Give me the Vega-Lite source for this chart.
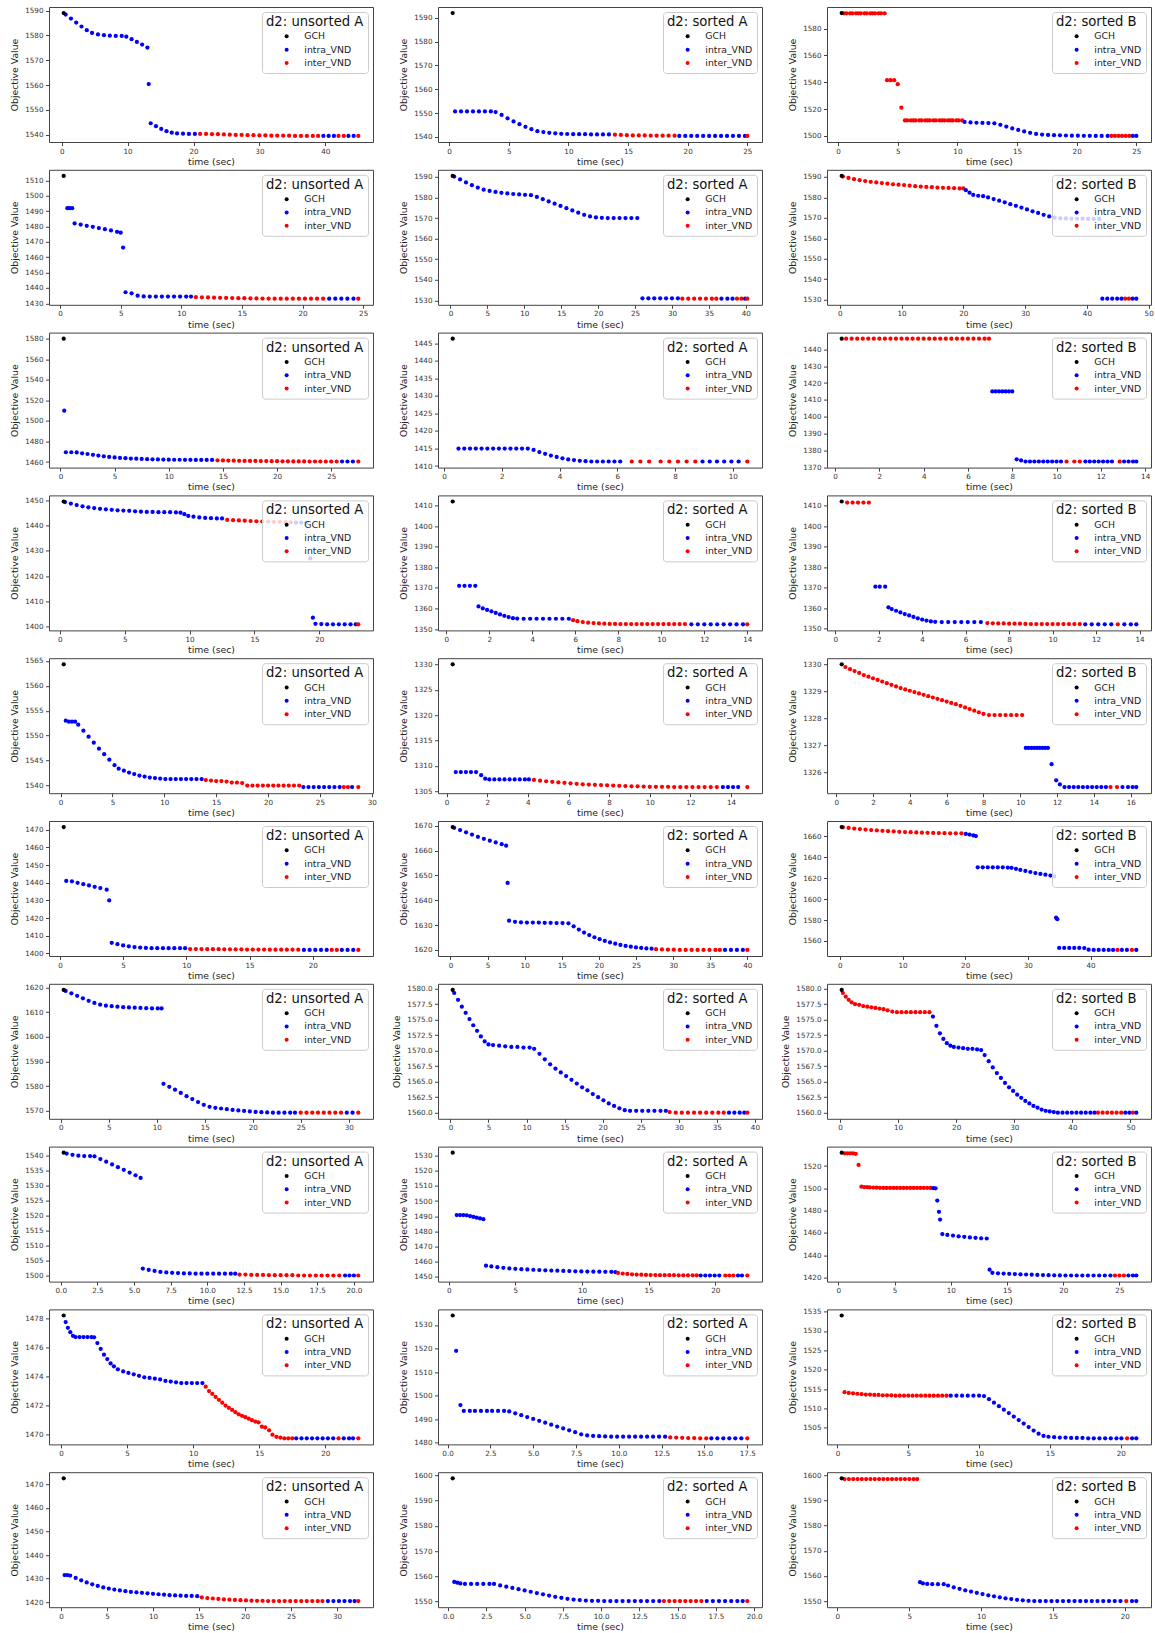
{
"$schema":"https://vega.github.io/schema/vega-lite/v6.json",
"padding":{"left":10,"top":6,"right":2,"bottom":0},
"columns":3,
"spacing":{"row":27.8,"column":65},
"bounds":"flush",
"resolve":{"scale":{"color":"independent"},"legend":{"color":"independent"}},
"config":{
"font":"DejaVu Sans",
"view":{"continuousWidth":324,"continuousHeight":135,"stroke":"#444","strokeWidth":1},
"point":{"filled":true,"size":18,"opacity":1},
"axis":{"grid":false,"domain":false,"labelFlush":false,"tickSize":3.5,"tickColor":"#444","labelFontSize":7.2,"labelColor":"#333","titleFontSize":9.3,"titleFontWeight":"normal","titleColor":"#222","labelPadding":1.5,"titlePadding":3},
"axisY":{"labelPadding":2.5,"titlePadding":5},
"legend":{"orient":"top-right","offset":5,"padding":4,"fillColor":"rgba(255,255,255,0.8)","strokeColor":"#cccccc","cornerRadius":3,"titleFontSize":13.2,"titleFontWeight":"normal","titleColor":"#111","titlePadding":2.5,"labelFontSize":9.3,"labelColor":"#222","labelOffset":13,"symbolType":"circle","symbolSize":16,"symbolOffset":16,"rowPadding":3.3,"symbolStrokeWidth":0}
},
"datasets":{
"d0":[{"t":0.6,"v":1588.4,"s":"a"},{"t":1.4,"v":1586.8,"s":"a"},{"t":2.2,"v":1585.2,"s":"a"},{"t":3,"v":1583.6,"s":"a"},{"t":3.8,"v":1582.1,"s":"a"},{"t":4.6,"v":1581,"s":"a"},{"t":5.5,"v":1580.4,"s":"a"},{"t":6.4,"v":1580.1,"s":"a"},{"t":7.3,"v":1579.9,"s":"a"},{"t":8.2,"v":1579.8,"s":"a"},{"t":9.1,"v":1579.8,"s":"a"},{"t":9.8,"v":1579.5,"s":"a"},{"t":10.6,"v":1578.5,"s":"a"},{"t":11.4,"v":1577.4,"s":"a"},{"t":12.2,"v":1576.3,"s":"a"},{"t":13,"v":1575.1,"s":"a"},{"t":13.2,"v":1560.4,"s":"a"},{"t":13.5,"v":1544.6,"s":"a"},{"t":14.3,"v":1543.4,"s":"a"},{"t":15.1,"v":1542.3,"s":"a"},{"t":15.9,"v":1541.4,"s":"a"},{"t":16.7,"v":1540.8,"s":"a"},{"t":17.5,"v":1540.5,"s":"a"},{"t":18.4,"v":1540.4,"s":"a"},{"t":19.3,"v":1540.3,"s":"a"},{"t":20.2,"v":1540.3,"s":"a"},{"t":21,"v":1540.3,"s":"e"},{"t":21.9,"v":1540.3,"s":"e"},{"t":22.8,"v":1540.2,"s":"e"},{"t":23.7,"v":1540.2,"s":"e"},{"t":24.6,"v":1540.1,"s":"e"},{"t":25.5,"v":1540,"s":"e"},{"t":26.4,"v":1539.9,"s":"e"},{"t":27.3,"v":1539.9,"s":"e"},{"t":28.2,"v":1539.8,"s":"e"},{"t":29.1,"v":1539.8,"s":"e"},{"t":30,"v":1539.7,"s":"e"},{"t":30.9,"v":1539.7,"s":"e"},{"t":31.8,"v":1539.6,"s":"e"},{"t":32.7,"v":1539.6,"s":"e"},{"t":33.6,"v":1539.6,"s":"e"},{"t":34.5,"v":1539.6,"s":"e"},{"t":35.4,"v":1539.5,"s":"e"},{"t":36.3,"v":1539.5,"s":"e"},{"t":37.2,"v":1539.5,"s":"e"},{"t":38.1,"v":1539.5,"s":"e"},{"t":38.9,"v":1539.5,"s":"e"},{"t":39.7,"v":1539.5,"s":"a"},{"t":40.5,"v":1539.5,"s":"a"},{"t":41.3,"v":1539.5,"s":"a"},{"t":42,"v":1539.5,"s":"e"},{"t":42.8,"v":1539.5,"s":"e"},{"t":43.5,"v":1539.5,"s":"a"},{"t":44.3,"v":1539.5,"s":"a"},{"t":45,"v":1539.5,"s":"e"},{"t":0.3,"v":1589,"s":"G"}],
"d1":[{"t":0.5,"v":1550.7,"s":"a"},{"t":1,"v":1550.7,"s":"a"},{"t":1.5,"v":1550.7,"s":"a"},{"t":2,"v":1550.7,"s":"a"},{"t":2.5,"v":1550.7,"s":"a"},{"t":3,"v":1550.7,"s":"a"},{"t":3.5,"v":1550.7,"s":"a"},{"t":3.9,"v":1550.4,"s":"a"},{"t":4.4,"v":1549.2,"s":"a"},{"t":4.9,"v":1547.8,"s":"a"},{"t":5.4,"v":1546.5,"s":"a"},{"t":5.9,"v":1545.3,"s":"a"},{"t":6.4,"v":1544.2,"s":"a"},{"t":6.9,"v":1543.2,"s":"a"},{"t":7.4,"v":1542.4,"s":"a"},{"t":7.9,"v":1542,"s":"a"},{"t":8.4,"v":1541.7,"s":"a"},{"t":8.9,"v":1541.5,"s":"a"},{"t":9.4,"v":1541.3,"s":"a"},{"t":9.9,"v":1541.2,"s":"a"},{"t":10.4,"v":1541.1,"s":"a"},{"t":10.9,"v":1541.1,"s":"a"},{"t":11.4,"v":1541.1,"s":"a"},{"t":11.9,"v":1541,"s":"a"},{"t":12.4,"v":1541,"s":"a"},{"t":12.9,"v":1541,"s":"a"},{"t":13.4,"v":1541,"s":"a"},{"t":13.9,"v":1540.9,"s":"e"},{"t":14.4,"v":1540.8,"s":"e"},{"t":14.9,"v":1540.7,"s":"e"},{"t":15.4,"v":1540.6,"s":"e"},{"t":15.9,"v":1540.6,"s":"e"},{"t":16.4,"v":1540.6,"s":"e"},{"t":16.9,"v":1540.5,"s":"e"},{"t":17.4,"v":1540.5,"s":"e"},{"t":17.9,"v":1540.5,"s":"e"},{"t":18.4,"v":1540.5,"s":"e"},{"t":18.9,"v":1540.5,"s":"e"},{"t":19.3,"v":1540.4,"s":"a"},{"t":19.8,"v":1540.4,"s":"a"},{"t":20.3,"v":1540.4,"s":"a"},{"t":20.8,"v":1540.4,"s":"a"},{"t":21.3,"v":1540.4,"s":"a"},{"t":21.8,"v":1540.4,"s":"a"},{"t":22.3,"v":1540.4,"s":"a"},{"t":22.8,"v":1540.4,"s":"a"},{"t":23.3,"v":1540.4,"s":"a"},{"t":23.8,"v":1540.4,"s":"a"},{"t":24.3,"v":1540.4,"s":"a"},{"t":24.8,"v":1540.4,"s":"a"},{"t":25,"v":1540.4,"s":"e"},{"t":0.3,"v":1592,"s":"G"}],
"d2":[{"t":0.5,"v":1591.3,"s":"e"},{"t":0.7,"v":1591.3,"s":"e"},{"t":1,"v":1591.3,"s":"e"},{"t":1.2,"v":1591.3,"s":"e"},{"t":1.5,"v":1591.3,"s":"e"},{"t":1.7,"v":1591.3,"s":"e"},{"t":1.9,"v":1591.3,"s":"e"},{"t":2.2,"v":1591.3,"s":"e"},{"t":2.4,"v":1591.3,"s":"e"},{"t":2.7,"v":1591.3,"s":"e"},{"t":2.9,"v":1591.3,"s":"e"},{"t":3.1,"v":1591.3,"s":"e"},{"t":3.4,"v":1591.3,"s":"e"},{"t":3.6,"v":1591.3,"s":"e"},{"t":3.9,"v":1591.3,"s":"e"},{"t":4.1,"v":1541.5,"s":"e"},{"t":4.4,"v":1541.5,"s":"e"},{"t":4.7,"v":1541.5,"s":"e"},{"t":5,"v":1538.5,"s":"e"},{"t":5.3,"v":1521,"s":"e"},{"t":5.6,"v":1511.5,"s":"e"},{"t":5.8,"v":1511.5,"s":"e"},{"t":6.1,"v":1511.5,"s":"e"},{"t":6.3,"v":1511.5,"s":"e"},{"t":6.5,"v":1511.5,"s":"e"},{"t":6.8,"v":1511.5,"s":"e"},{"t":7,"v":1511.5,"s":"e"},{"t":7.3,"v":1511.5,"s":"e"},{"t":7.5,"v":1511.5,"s":"e"},{"t":7.7,"v":1511.5,"s":"e"},{"t":8,"v":1511.5,"s":"e"},{"t":8.2,"v":1511.5,"s":"e"},{"t":8.5,"v":1511.5,"s":"e"},{"t":8.7,"v":1511.5,"s":"e"},{"t":8.9,"v":1511.5,"s":"e"},{"t":9.2,"v":1511.5,"s":"e"},{"t":9.4,"v":1511.5,"s":"e"},{"t":9.6,"v":1511.5,"s":"e"},{"t":9.9,"v":1511.5,"s":"e"},{"t":10.1,"v":1511.5,"s":"e"},{"t":10.4,"v":1511.5,"s":"e"},{"t":10.6,"v":1510.4,"s":"a"},{"t":11.1,"v":1510,"s":"a"},{"t":11.6,"v":1509.8,"s":"a"},{"t":12.1,"v":1509.7,"s":"a"},{"t":12.6,"v":1509.6,"s":"a"},{"t":13.1,"v":1509.4,"s":"a"},{"t":13.6,"v":1508.3,"s":"a"},{"t":14.1,"v":1507,"s":"a"},{"t":14.6,"v":1505.6,"s":"a"},{"t":15.1,"v":1504.4,"s":"a"},{"t":15.6,"v":1503.3,"s":"a"},{"t":16.1,"v":1502.3,"s":"a"},{"t":16.6,"v":1501.5,"s":"a"},{"t":17.1,"v":1501,"s":"a"},{"t":17.6,"v":1500.7,"s":"a"},{"t":18.1,"v":1500.5,"s":"a"},{"t":18.6,"v":1500.4,"s":"a"},{"t":19.1,"v":1500.3,"s":"a"},{"t":19.6,"v":1500.2,"s":"a"},{"t":20.1,"v":1500.2,"s":"a"},{"t":20.6,"v":1500.1,"s":"a"},{"t":21.1,"v":1500.1,"s":"a"},{"t":21.6,"v":1500,"s":"a"},{"t":22.1,"v":1500,"s":"a"},{"t":22.6,"v":1500,"s":"a"},{"t":22.9,"v":1500,"s":"e"},{"t":23.2,"v":1500,"s":"e"},{"t":23.5,"v":1500,"s":"e"},{"t":23.8,"v":1500,"s":"e"},{"t":24.1,"v":1500,"s":"e"},{"t":24.4,"v":1500,"s":"e"},{"t":24.7,"v":1500,"s":"a"},{"t":25,"v":1500,"s":"a"},{"t":0.3,"v":1591.5,"s":"G"}],
"d3":[{"t":0.6,"v":1492,"s":"a"},{"t":0.8,"v":1492,"s":"a"},{"t":1,"v":1492,"s":"a"},{"t":1.2,"v":1482,"s":"a"},{"t":1.7,"v":1481.3,"s":"a"},{"t":2.2,"v":1480.5,"s":"a"},{"t":2.7,"v":1479.8,"s":"a"},{"t":3.2,"v":1479,"s":"a"},{"t":3.7,"v":1478.3,"s":"a"},{"t":4.2,"v":1477.5,"s":"a"},{"t":4.7,"v":1476.6,"s":"a"},{"t":5,"v":1476,"s":"a"},{"t":5.2,"v":1466.3,"s":"a"},{"t":5.4,"v":1437.2,"s":"a"},{"t":5.9,"v":1436.5,"s":"a"},{"t":6.4,"v":1435,"s":"a"},{"t":6.9,"v":1434.5,"s":"a"},{"t":7.4,"v":1434.4,"s":"a"},{"t":7.9,"v":1434.4,"s":"a"},{"t":8.4,"v":1434.4,"s":"a"},{"t":8.9,"v":1434.4,"s":"a"},{"t":9.4,"v":1434.4,"s":"a"},{"t":9.9,"v":1434.4,"s":"a"},{"t":10.4,"v":1434.4,"s":"a"},{"t":10.8,"v":1434.4,"s":"a"},{"t":11.2,"v":1434,"s":"e"},{"t":11.7,"v":1433.9,"s":"e"},{"t":12.2,"v":1433.8,"s":"e"},{"t":12.7,"v":1433.7,"s":"e"},{"t":13.2,"v":1433.6,"s":"e"},{"t":13.7,"v":1433.5,"s":"e"},{"t":14.2,"v":1433.4,"s":"e"},{"t":14.7,"v":1433.3,"s":"e"},{"t":15.2,"v":1433.3,"s":"e"},{"t":15.7,"v":1433.2,"s":"e"},{"t":16.2,"v":1433.2,"s":"e"},{"t":16.7,"v":1433.1,"s":"e"},{"t":17.2,"v":1433.1,"s":"e"},{"t":17.7,"v":1433,"s":"e"},{"t":18.2,"v":1433,"s":"e"},{"t":18.7,"v":1433,"s":"e"},{"t":19.2,"v":1433,"s":"e"},{"t":19.7,"v":1433,"s":"e"},{"t":20.2,"v":1433,"s":"e"},{"t":20.7,"v":1433,"s":"e"},{"t":21.2,"v":1433,"s":"e"},{"t":21.7,"v":1433,"s":"e"},{"t":22.2,"v":1433,"s":"a"},{"t":22.7,"v":1433,"s":"a"},{"t":23.2,"v":1433,"s":"a"},{"t":23.7,"v":1433,"s":"a"},{"t":24.2,"v":1433,"s":"a"},{"t":24.6,"v":1433,"s":"e"},{"t":0.3,"v":1513,"s":"G"}],
"d4":[{"t":0.5,"v":1590.2,"s":"a"},{"t":1.3,"v":1588.8,"s":"a"},{"t":2.1,"v":1587.3,"s":"a"},{"t":2.9,"v":1586,"s":"a"},{"t":3.7,"v":1584.8,"s":"a"},{"t":4.5,"v":1583.8,"s":"a"},{"t":5.3,"v":1583.2,"s":"a"},{"t":6.1,"v":1582.7,"s":"a"},{"t":6.9,"v":1582.3,"s":"a"},{"t":7.7,"v":1582,"s":"a"},{"t":8.5,"v":1581.7,"s":"a"},{"t":9.3,"v":1581.5,"s":"a"},{"t":10.1,"v":1581.3,"s":"a"},{"t":10.9,"v":1581.1,"s":"a"},{"t":11.7,"v":1580.3,"s":"a"},{"t":12.5,"v":1579.2,"s":"a"},{"t":13.3,"v":1578.1,"s":"a"},{"t":14.1,"v":1577,"s":"a"},{"t":14.9,"v":1575.9,"s":"a"},{"t":15.7,"v":1574.8,"s":"a"},{"t":16.5,"v":1573.7,"s":"a"},{"t":17.3,"v":1572.6,"s":"a"},{"t":18.1,"v":1571.6,"s":"a"},{"t":18.9,"v":1570.8,"s":"a"},{"t":19.7,"v":1570.3,"s":"a"},{"t":20.5,"v":1570.1,"s":"a"},{"t":21.3,"v":1570,"s":"a"},{"t":22.1,"v":1570,"s":"a"},{"t":22.9,"v":1570,"s":"a"},{"t":23.7,"v":1570,"s":"a"},{"t":24.5,"v":1570,"s":"a"},{"t":25.3,"v":1570,"s":"a"},{"t":26,"v":1531,"s":"a"},{"t":26.8,"v":1531,"s":"a"},{"t":27.6,"v":1531,"s":"a"},{"t":28.4,"v":1531,"s":"a"},{"t":29.2,"v":1531,"s":"a"},{"t":30,"v":1531,"s":"a"},{"t":30.8,"v":1531,"s":"a"},{"t":31.4,"v":1530.8,"s":"e"},{"t":32.2,"v":1530.8,"s":"e"},{"t":33,"v":1530.8,"s":"e"},{"t":33.8,"v":1530.8,"s":"e"},{"t":34.6,"v":1530.8,"s":"e"},{"t":35.4,"v":1530.8,"s":"e"},{"t":36,"v":1530.8,"s":"e"},{"t":36.7,"v":1530.8,"s":"a"},{"t":37.5,"v":1530.8,"s":"a"},{"t":38.2,"v":1530.8,"s":"a"},{"t":38.8,"v":1530.8,"s":"e"},{"t":39.4,"v":1530.8,"s":"e"},{"t":39.9,"v":1530.8,"s":"a"},{"t":40.2,"v":1530.8,"s":"e"},{"t":0.3,"v":1590.5,"s":"G"}],
"d5":[{"t":0.5,"v":1590.2,"s":"e"},{"t":1.4,"v":1589.5,"s":"e"},{"t":2.3,"v":1588.9,"s":"e"},{"t":3.2,"v":1588.4,"s":"e"},{"t":4.1,"v":1588,"s":"e"},{"t":5,"v":1587.6,"s":"e"},{"t":5.9,"v":1587.3,"s":"e"},{"t":6.8,"v":1587,"s":"e"},{"t":7.7,"v":1586.7,"s":"e"},{"t":8.6,"v":1586.4,"s":"e"},{"t":9.5,"v":1586.2,"s":"e"},{"t":10.4,"v":1586,"s":"e"},{"t":11.3,"v":1585.7,"s":"e"},{"t":12.2,"v":1585.5,"s":"e"},{"t":13.1,"v":1585.3,"s":"e"},{"t":14,"v":1585.1,"s":"e"},{"t":14.9,"v":1585,"s":"e"},{"t":15.8,"v":1584.8,"s":"e"},{"t":16.7,"v":1584.7,"s":"e"},{"t":17.6,"v":1584.6,"s":"e"},{"t":18.5,"v":1584.5,"s":"e"},{"t":19.4,"v":1584.4,"s":"e"},{"t":20,"v":1584.4,"s":"e"},{"t":20.4,"v":1583.5,"s":"a"},{"t":21,"v":1582.3,"s":"a"},{"t":21.6,"v":1581.2,"s":"a"},{"t":22.4,"v":1580.8,"s":"a"},{"t":23.2,"v":1580.6,"s":"a"},{"t":24,"v":1580,"s":"a"},{"t":24.9,"v":1579.2,"s":"a"},{"t":25.8,"v":1578.4,"s":"a"},{"t":26.7,"v":1577.6,"s":"a"},{"t":27.6,"v":1576.7,"s":"a"},{"t":28.5,"v":1575.9,"s":"a"},{"t":29.4,"v":1575,"s":"a"},{"t":30.3,"v":1574.1,"s":"a"},{"t":31.2,"v":1573.2,"s":"a"},{"t":32.1,"v":1572.4,"s":"a"},{"t":33,"v":1571.5,"s":"a"},{"t":33.9,"v":1570.7,"s":"a"},{"t":34.8,"v":1570.1,"s":"a"},{"t":35.7,"v":1569.8,"s":"a"},{"t":36.6,"v":1569.7,"s":"a"},{"t":37.5,"v":1569.6,"s":"a"},{"t":38.4,"v":1569.6,"s":"a"},{"t":39.3,"v":1569.6,"s":"a"},{"t":40.2,"v":1569.5,"s":"a"},{"t":41.1,"v":1569.5,"s":"a"},{"t":42,"v":1569.5,"s":"a"},{"t":42.5,"v":1530.5,"s":"a"},{"t":43.3,"v":1530.5,"s":"a"},{"t":44.1,"v":1530.5,"s":"a"},{"t":44.9,"v":1530.5,"s":"a"},{"t":45.6,"v":1530.5,"s":"a"},{"t":46.2,"v":1530.5,"s":"e"},{"t":46.8,"v":1530.5,"s":"e"},{"t":47.4,"v":1530.5,"s":"a"},{"t":48,"v":1530.5,"s":"a"},{"t":0.3,"v":1590.5,"s":"G"}],
"d6":[{"t":0.35,"v":1510,"s":"a"},{"t":0.5,"v":1469.5,"s":"a"},{"t":1,"v":1469.5,"s":"a"},{"t":1.5,"v":1469.3,"s":"a"},{"t":2,"v":1468.5,"s":"a"},{"t":2.5,"v":1467.8,"s":"a"},{"t":3,"v":1467,"s":"a"},{"t":3.5,"v":1466.3,"s":"a"},{"t":4,"v":1465.6,"s":"a"},{"t":4.5,"v":1465,"s":"a"},{"t":5,"v":1464.5,"s":"a"},{"t":5.5,"v":1464,"s":"a"},{"t":6,"v":1463.7,"s":"a"},{"t":6.5,"v":1463.4,"s":"a"},{"t":7,"v":1463.2,"s":"a"},{"t":7.5,"v":1463,"s":"a"},{"t":8,"v":1462.8,"s":"a"},{"t":8.5,"v":1462.6,"s":"a"},{"t":9,"v":1462.5,"s":"a"},{"t":9.5,"v":1462.4,"s":"a"},{"t":10,"v":1462.3,"s":"a"},{"t":10.5,"v":1462.2,"s":"a"},{"t":11,"v":1462.2,"s":"a"},{"t":11.5,"v":1462.1,"s":"a"},{"t":12,"v":1462.1,"s":"a"},{"t":12.5,"v":1462,"s":"a"},{"t":13,"v":1462,"s":"a"},{"t":13.5,"v":1462,"s":"a"},{"t":14,"v":1462,"s":"a"},{"t":14.5,"v":1461.6,"s":"e"},{"t":15,"v":1461.5,"s":"e"},{"t":15.5,"v":1461.4,"s":"e"},{"t":16,"v":1461.3,"s":"e"},{"t":16.5,"v":1461.2,"s":"e"},{"t":17,"v":1461.1,"s":"e"},{"t":17.5,"v":1461,"s":"e"},{"t":18,"v":1461,"s":"e"},{"t":18.5,"v":1460.9,"s":"e"},{"t":19,"v":1460.9,"s":"e"},{"t":19.5,"v":1460.8,"s":"e"},{"t":20,"v":1460.8,"s":"e"},{"t":20.5,"v":1460.7,"s":"e"},{"t":21,"v":1460.7,"s":"e"},{"t":21.5,"v":1460.6,"s":"e"},{"t":22,"v":1460.6,"s":"e"},{"t":22.5,"v":1460.6,"s":"e"},{"t":23,"v":1460.5,"s":"e"},{"t":23.5,"v":1460.5,"s":"e"},{"t":24,"v":1460.5,"s":"e"},{"t":24.5,"v":1460.5,"s":"e"},{"t":25,"v":1460.5,"s":"e"},{"t":25.5,"v":1460.5,"s":"e"},{"t":26,"v":1460.5,"s":"a"},{"t":26.5,"v":1460.5,"s":"a"},{"t":27,"v":1460.5,"s":"a"},{"t":27.5,"v":1460.5,"s":"e"},{"t":0.3,"v":1580,"s":"G"}],
"d7":[{"t":0.5,"v":1415,"s":"a"},{"t":0.7,"v":1415,"s":"a"},{"t":0.9,"v":1415,"s":"a"},{"t":1.1,"v":1415,"s":"a"},{"t":1.3,"v":1415,"s":"a"},{"t":1.5,"v":1415,"s":"a"},{"t":1.7,"v":1415,"s":"a"},{"t":1.9,"v":1415,"s":"a"},{"t":2.1,"v":1415,"s":"a"},{"t":2.3,"v":1415,"s":"a"},{"t":2.5,"v":1415,"s":"a"},{"t":2.7,"v":1415,"s":"a"},{"t":2.9,"v":1415,"s":"a"},{"t":3.1,"v":1414.6,"s":"a"},{"t":3.3,"v":1414,"s":"a"},{"t":3.5,"v":1413.5,"s":"a"},{"t":3.7,"v":1413,"s":"a"},{"t":3.9,"v":1412.6,"s":"a"},{"t":4.1,"v":1412.2,"s":"a"},{"t":4.3,"v":1411.9,"s":"a"},{"t":4.5,"v":1411.7,"s":"a"},{"t":4.7,"v":1411.5,"s":"a"},{"t":4.9,"v":1411.4,"s":"a"},{"t":5.1,"v":1411.3,"s":"a"},{"t":5.3,"v":1411.3,"s":"a"},{"t":5.5,"v":1411.3,"s":"a"},{"t":5.7,"v":1411.3,"s":"a"},{"t":5.9,"v":1411.3,"s":"a"},{"t":6.1,"v":1411.3,"s":"a"},{"t":6.5,"v":1411.3,"s":"e"},{"t":6.8,"v":1411.3,"s":"e"},{"t":7.1,"v":1411.3,"s":"e"},{"t":7.5,"v":1411.3,"s":"e"},{"t":7.8,"v":1411.3,"s":"e"},{"t":8.1,"v":1411.3,"s":"e"},{"t":8.4,"v":1411.3,"s":"e"},{"t":8.7,"v":1411.3,"s":"e"},{"t":8.95,"v":1411.3,"s":"a"},{"t":9.2,"v":1411.3,"s":"a"},{"t":9.45,"v":1411.3,"s":"a"},{"t":9.7,"v":1411.3,"s":"a"},{"t":9.95,"v":1411.3,"s":"a"},{"t":10.2,"v":1411.3,"s":"a"},{"t":10.5,"v":1411.3,"s":"e"},{"t":0.3,"v":1446.3,"s":"G"}],
"d8":[{"t":0.5,"v":1446.3,"s":"e"},{"t":0.75,"v":1446.3,"s":"e"},{"t":1,"v":1446.3,"s":"e"},{"t":1.25,"v":1446.3,"s":"e"},{"t":1.5,"v":1446.3,"s":"e"},{"t":1.75,"v":1446.3,"s":"e"},{"t":2,"v":1446.3,"s":"e"},{"t":2.25,"v":1446.3,"s":"e"},{"t":2.5,"v":1446.3,"s":"e"},{"t":2.75,"v":1446.3,"s":"e"},{"t":3,"v":1446.3,"s":"e"},{"t":3.25,"v":1446.3,"s":"e"},{"t":3.5,"v":1446.3,"s":"e"},{"t":3.75,"v":1446.3,"s":"e"},{"t":4,"v":1446.3,"s":"e"},{"t":4.25,"v":1446.3,"s":"e"},{"t":4.5,"v":1446.3,"s":"e"},{"t":4.75,"v":1446.3,"s":"e"},{"t":5,"v":1446.3,"s":"e"},{"t":5.25,"v":1446.3,"s":"e"},{"t":5.5,"v":1446.3,"s":"e"},{"t":5.75,"v":1446.3,"s":"e"},{"t":6,"v":1446.3,"s":"e"},{"t":6.25,"v":1446.3,"s":"e"},{"t":6.5,"v":1446.3,"s":"e"},{"t":6.75,"v":1446.3,"s":"e"},{"t":6.95,"v":1446.3,"s":"e"},{"t":7.1,"v":1415,"s":"a"},{"t":7.25,"v":1415,"s":"a"},{"t":7.4,"v":1415,"s":"a"},{"t":7.55,"v":1415,"s":"a"},{"t":7.7,"v":1415,"s":"a"},{"t":7.85,"v":1415,"s":"a"},{"t":8,"v":1415,"s":"a"},{"t":8.2,"v":1374.7,"s":"a"},{"t":8.4,"v":1374,"s":"a"},{"t":8.6,"v":1373.4,"s":"a"},{"t":8.8,"v":1373.4,"s":"a"},{"t":9,"v":1373.4,"s":"a"},{"t":9.2,"v":1373.4,"s":"a"},{"t":9.4,"v":1373.4,"s":"a"},{"t":9.6,"v":1373.4,"s":"a"},{"t":9.8,"v":1373.4,"s":"a"},{"t":10,"v":1373.4,"s":"a"},{"t":10.2,"v":1373.4,"s":"a"},{"t":10.45,"v":1373.4,"s":"e"},{"t":10.8,"v":1373.4,"s":"e"},{"t":11.05,"v":1373.4,"s":"e"},{"t":11.3,"v":1373.4,"s":"a"},{"t":11.5,"v":1373.4,"s":"a"},{"t":11.7,"v":1373.4,"s":"a"},{"t":11.9,"v":1373.4,"s":"a"},{"t":12.1,"v":1373.4,"s":"a"},{"t":12.3,"v":1373.4,"s":"a"},{"t":12.5,"v":1373.4,"s":"a"},{"t":12.85,"v":1373.4,"s":"e"},{"t":13.05,"v":1373.4,"s":"a"},{"t":13.25,"v":1373.4,"s":"a"},{"t":13.45,"v":1373.4,"s":"a"},{"t":13.6,"v":1373.4,"s":"a"},{"t":0.3,"v":1446.3,"s":"G"}],
"d9":[{"t":0.4,"v":1449.3,"s":"a"},{"t":0.85,"v":1448.7,"s":"a"},{"t":1.3,"v":1448.1,"s":"a"},{"t":1.75,"v":1447.6,"s":"a"},{"t":2.2,"v":1447.2,"s":"a"},{"t":2.65,"v":1446.9,"s":"a"},{"t":3.1,"v":1446.6,"s":"a"},{"t":3.55,"v":1446.4,"s":"a"},{"t":4,"v":1446.2,"s":"a"},{"t":4.45,"v":1446,"s":"a"},{"t":4.9,"v":1445.9,"s":"a"},{"t":5.35,"v":1445.8,"s":"a"},{"t":5.8,"v":1445.6,"s":"a"},{"t":6.25,"v":1445.5,"s":"a"},{"t":6.7,"v":1445.4,"s":"a"},{"t":7.15,"v":1445.4,"s":"a"},{"t":7.6,"v":1445.3,"s":"a"},{"t":8.05,"v":1445.3,"s":"a"},{"t":8.5,"v":1445.3,"s":"a"},{"t":8.95,"v":1445.2,"s":"a"},{"t":9.3,"v":1445.1,"s":"a"},{"t":9.6,"v":1444.5,"s":"a"},{"t":9.9,"v":1443.8,"s":"a"},{"t":10.3,"v":1443.5,"s":"a"},{"t":10.75,"v":1443.2,"s":"a"},{"t":11.2,"v":1443,"s":"a"},{"t":11.65,"v":1442.9,"s":"a"},{"t":12.1,"v":1442.8,"s":"a"},{"t":12.5,"v":1442.8,"s":"a"},{"t":12.9,"v":1442.2,"s":"e"},{"t":13.35,"v":1442.1,"s":"e"},{"t":13.8,"v":1442,"s":"e"},{"t":14.25,"v":1441.9,"s":"e"},{"t":14.7,"v":1441.8,"s":"e"},{"t":15.15,"v":1441.7,"s":"e"},{"t":15.6,"v":1441.6,"s":"e"},{"t":16.05,"v":1441.6,"s":"e"},{"t":16.5,"v":1441.5,"s":"e"},{"t":16.95,"v":1441.5,"s":"e"},{"t":17.4,"v":1441.4,"s":"e"},{"t":17.8,"v":1441.3,"s":"e"},{"t":18.2,"v":1441.2,"s":"a"},{"t":18.6,"v":1441.2,"s":"a"},{"t":19,"v":1441.2,"s":"a"},{"t":19.3,"v":1427,"s":"a"},{"t":19.5,"v":1403.6,"s":"a"},{"t":19.7,"v":1401.2,"s":"a"},{"t":20.15,"v":1401.1,"s":"a"},{"t":20.6,"v":1401,"s":"a"},{"t":21.05,"v":1401,"s":"a"},{"t":21.5,"v":1401,"s":"a"},{"t":21.95,"v":1401,"s":"a"},{"t":22.4,"v":1401,"s":"a"},{"t":22.8,"v":1401,"s":"a"},{"t":23,"v":1401,"s":"e"},{"t":0.3,"v":1449.5,"s":"G"}],
"d10":[{"t":0.6,"v":1371,"s":"a"},{"t":0.85,"v":1371,"s":"a"},{"t":1.1,"v":1371,"s":"a"},{"t":1.35,"v":1371,"s":"a"},{"t":1.5,"v":1361,"s":"a"},{"t":1.7,"v":1360,"s":"a"},{"t":1.9,"v":1359.3,"s":"a"},{"t":2.1,"v":1358.6,"s":"a"},{"t":2.3,"v":1357.8,"s":"a"},{"t":2.5,"v":1357.1,"s":"a"},{"t":2.7,"v":1356.4,"s":"a"},{"t":2.9,"v":1355.8,"s":"a"},{"t":3.1,"v":1355.3,"s":"a"},{"t":3.3,"v":1355.1,"s":"a"},{"t":3.6,"v":1355,"s":"a"},{"t":3.9,"v":1355,"s":"a"},{"t":4.2,"v":1355,"s":"a"},{"t":4.5,"v":1355,"s":"a"},{"t":4.8,"v":1355,"s":"a"},{"t":5.1,"v":1355,"s":"a"},{"t":5.4,"v":1355,"s":"a"},{"t":5.7,"v":1355,"s":"a"},{"t":5.9,"v":1354.3,"s":"e"},{"t":6.1,"v":1353.8,"s":"e"},{"t":6.35,"v":1353.4,"s":"e"},{"t":6.6,"v":1353.1,"s":"e"},{"t":6.85,"v":1352.9,"s":"e"},{"t":7.1,"v":1352.7,"s":"e"},{"t":7.35,"v":1352.6,"s":"e"},{"t":7.6,"v":1352.5,"s":"e"},{"t":7.85,"v":1352.5,"s":"e"},{"t":8.1,"v":1352.4,"s":"e"},{"t":8.35,"v":1352.4,"s":"e"},{"t":8.6,"v":1352.4,"s":"e"},{"t":8.85,"v":1352.4,"s":"e"},{"t":9.1,"v":1352.4,"s":"e"},{"t":9.35,"v":1352.4,"s":"e"},{"t":9.6,"v":1352.4,"s":"e"},{"t":9.85,"v":1352.4,"s":"e"},{"t":10.1,"v":1352.4,"s":"e"},{"t":10.35,"v":1352.4,"s":"e"},{"t":10.6,"v":1352.4,"s":"e"},{"t":10.85,"v":1352.4,"s":"e"},{"t":11.1,"v":1352.4,"s":"e"},{"t":11.4,"v":1352.3,"s":"a"},{"t":11.7,"v":1352.3,"s":"a"},{"t":12,"v":1352.3,"s":"a"},{"t":12.3,"v":1352.3,"s":"a"},{"t":12.6,"v":1352.3,"s":"a"},{"t":12.9,"v":1352.3,"s":"a"},{"t":13.2,"v":1352.3,"s":"a"},{"t":13.5,"v":1352.3,"s":"a"},{"t":13.8,"v":1352.3,"s":"a"},{"t":14,"v":1352.3,"s":"e"},{"t":0.3,"v":1412,"s":"G"}],
"d11":[{"t":0.55,"v":1411.5,"s":"e"},{"t":0.8,"v":1411.5,"s":"e"},{"t":1.05,"v":1411.5,"s":"e"},{"t":1.3,"v":1411.5,"s":"e"},{"t":1.55,"v":1411.5,"s":"e"},{"t":1.85,"v":1370.5,"s":"a"},{"t":2.05,"v":1370.5,"s":"a"},{"t":2.3,"v":1370.5,"s":"a"},{"t":2.45,"v":1360.5,"s":"a"},{"t":2.6,"v":1359.6,"s":"a"},{"t":2.8,"v":1358.8,"s":"a"},{"t":3,"v":1358,"s":"a"},{"t":3.2,"v":1357.2,"s":"a"},{"t":3.4,"v":1356.5,"s":"a"},{"t":3.6,"v":1355.8,"s":"a"},{"t":3.8,"v":1355.1,"s":"a"},{"t":4,"v":1354.5,"s":"a"},{"t":4.2,"v":1354,"s":"a"},{"t":4.4,"v":1353.6,"s":"a"},{"t":4.6,"v":1353.4,"s":"a"},{"t":4.9,"v":1353.3,"s":"a"},{"t":5.2,"v":1353.3,"s":"a"},{"t":5.5,"v":1353.3,"s":"a"},{"t":5.8,"v":1353.3,"s":"a"},{"t":6.1,"v":1353.3,"s":"a"},{"t":6.4,"v":1353.3,"s":"a"},{"t":6.7,"v":1353.3,"s":"a"},{"t":7,"v":1352.8,"s":"e"},{"t":7.25,"v":1352.7,"s":"e"},{"t":7.5,"v":1352.6,"s":"e"},{"t":7.75,"v":1352.6,"s":"e"},{"t":8,"v":1352.5,"s":"e"},{"t":8.25,"v":1352.5,"s":"e"},{"t":8.5,"v":1352.5,"s":"e"},{"t":8.75,"v":1352.4,"s":"e"},{"t":9,"v":1352.3,"s":"e"},{"t":9.25,"v":1352.3,"s":"e"},{"t":9.5,"v":1352.3,"s":"e"},{"t":9.75,"v":1352.3,"s":"e"},{"t":10,"v":1352.3,"s":"e"},{"t":10.25,"v":1352.3,"s":"e"},{"t":10.5,"v":1352.3,"s":"e"},{"t":10.75,"v":1352.3,"s":"e"},{"t":11,"v":1352.3,"s":"e"},{"t":11.25,"v":1352.3,"s":"e"},{"t":11.5,"v":1352.2,"s":"a"},{"t":11.8,"v":1352.2,"s":"a"},{"t":12.1,"v":1352.2,"s":"a"},{"t":12.4,"v":1352.2,"s":"a"},{"t":12.7,"v":1352.2,"s":"a"},{"t":13,"v":1352.2,"s":"e"},{"t":13.3,"v":1352.2,"s":"a"},{"t":13.6,"v":1352.2,"s":"a"},{"t":13.85,"v":1352.2,"s":"a"},{"t":0.3,"v":1412,"s":"G"}],
"d12":[{"t":0.5,"v":1553,"s":"a"},{"t":0.8,"v":1552.8,"s":"a"},{"t":1.1,"v":1552.8,"s":"a"},{"t":1.4,"v":1552.8,"s":"a"},{"t":1.7,"v":1552.2,"s":"a"},{"t":2.2,"v":1551,"s":"a"},{"t":2.7,"v":1549.8,"s":"a"},{"t":3.2,"v":1548.6,"s":"a"},{"t":3.7,"v":1547.4,"s":"a"},{"t":4.2,"v":1546.3,"s":"a"},{"t":4.7,"v":1545.2,"s":"a"},{"t":5.2,"v":1544.1,"s":"a"},{"t":5.6,"v":1543.4,"s":"a"},{"t":6.1,"v":1543,"s":"a"},{"t":6.6,"v":1542.6,"s":"a"},{"t":7.1,"v":1542.3,"s":"a"},{"t":7.6,"v":1542,"s":"a"},{"t":8.1,"v":1541.8,"s":"a"},{"t":8.6,"v":1541.6,"s":"a"},{"t":9.1,"v":1541.5,"s":"a"},{"t":9.6,"v":1541.4,"s":"a"},{"t":10.1,"v":1541.3,"s":"a"},{"t":10.6,"v":1541.3,"s":"a"},{"t":11.1,"v":1541.3,"s":"a"},{"t":11.6,"v":1541.3,"s":"a"},{"t":12.1,"v":1541.3,"s":"a"},{"t":12.6,"v":1541.3,"s":"a"},{"t":13.1,"v":1541.3,"s":"a"},{"t":13.6,"v":1541.3,"s":"a"},{"t":14,"v":1541.1,"s":"e"},{"t":14.5,"v":1541,"s":"e"},{"t":15,"v":1540.9,"s":"e"},{"t":15.5,"v":1540.9,"s":"e"},{"t":16,"v":1540.8,"s":"e"},{"t":16.5,"v":1540.6,"s":"e"},{"t":17,"v":1540.6,"s":"e"},{"t":17.5,"v":1540.5,"s":"e"},{"t":18,"v":1540,"s":"e"},{"t":18.5,"v":1540,"s":"e"},{"t":19,"v":1540,"s":"e"},{"t":19.5,"v":1540,"s":"e"},{"t":20,"v":1540,"s":"e"},{"t":20.5,"v":1540,"s":"e"},{"t":21,"v":1540,"s":"e"},{"t":21.5,"v":1540,"s":"e"},{"t":22,"v":1540,"s":"e"},{"t":22.5,"v":1540,"s":"e"},{"t":23,"v":1540,"s":"e"},{"t":23.4,"v":1539.7,"s":"a"},{"t":23.9,"v":1539.7,"s":"a"},{"t":24.4,"v":1539.7,"s":"a"},{"t":24.9,"v":1539.7,"s":"a"},{"t":25.4,"v":1539.7,"s":"a"},{"t":25.9,"v":1539.7,"s":"a"},{"t":26.4,"v":1539.7,"s":"a"},{"t":26.9,"v":1539.7,"s":"a"},{"t":27.3,"v":1539.7,"s":"e"},{"t":27.7,"v":1539.7,"s":"e"},{"t":28.1,"v":1539.7,"s":"a"},{"t":28.7,"v":1539.7,"s":"e"},{"t":0.3,"v":1564.3,"s":"G"}],
"d13":[{"t":0.45,"v":1308.8,"s":"a"},{"t":0.7,"v":1308.8,"s":"a"},{"t":0.95,"v":1308.8,"s":"a"},{"t":1.2,"v":1308.8,"s":"a"},{"t":1.45,"v":1308.8,"s":"a"},{"t":1.7,"v":1308.2,"s":"a"},{"t":1.9,"v":1307.5,"s":"a"},{"t":2.1,"v":1307.35,"s":"a"},{"t":2.35,"v":1307.35,"s":"a"},{"t":2.6,"v":1307.35,"s":"a"},{"t":2.85,"v":1307.35,"s":"a"},{"t":3.1,"v":1307.35,"s":"a"},{"t":3.35,"v":1307.35,"s":"a"},{"t":3.6,"v":1307.35,"s":"a"},{"t":3.85,"v":1307.35,"s":"a"},{"t":4.05,"v":1307.35,"s":"a"},{"t":4.3,"v":1307.25,"s":"e"},{"t":4.6,"v":1307.1,"s":"e"},{"t":4.9,"v":1307,"s":"e"},{"t":5.2,"v":1306.9,"s":"e"},{"t":5.5,"v":1306.8,"s":"e"},{"t":5.8,"v":1306.7,"s":"e"},{"t":6.1,"v":1306.6,"s":"e"},{"t":6.4,"v":1306.5,"s":"e"},{"t":6.7,"v":1306.4,"s":"e"},{"t":7,"v":1306.35,"s":"e"},{"t":7.3,"v":1306.3,"s":"e"},{"t":7.6,"v":1306.25,"s":"e"},{"t":7.9,"v":1306.2,"s":"e"},{"t":8.2,"v":1306.15,"s":"e"},{"t":8.5,"v":1306.1,"s":"e"},{"t":8.8,"v":1306.05,"s":"e"},{"t":9.1,"v":1306,"s":"e"},{"t":9.4,"v":1306,"s":"e"},{"t":9.7,"v":1305.95,"s":"e"},{"t":10,"v":1305.9,"s":"e"},{"t":10.3,"v":1305.9,"s":"e"},{"t":10.6,"v":1305.9,"s":"e"},{"t":10.9,"v":1305.9,"s":"e"},{"t":11.2,"v":1305.85,"s":"e"},{"t":11.5,"v":1305.85,"s":"e"},{"t":11.8,"v":1305.85,"s":"e"},{"t":12.1,"v":1305.85,"s":"e"},{"t":12.4,"v":1305.85,"s":"e"},{"t":12.7,"v":1305.85,"s":"e"},{"t":13,"v":1305.85,"s":"e"},{"t":13.3,"v":1305.85,"s":"e"},{"t":13.6,"v":1305.85,"s":"a"},{"t":13.85,"v":1305.85,"s":"a"},{"t":14.1,"v":1305.85,"s":"a"},{"t":14.35,"v":1305.85,"s":"a"},{"t":14.8,"v":1305.85,"s":"e"},{"t":0.3,"v":1330,"s":"G"}],
"d14":[{"t":0.5,"v":1329.9,"s":"e"},{"t":0.75,"v":1329.82,"s":"e"},{"t":1,"v":1329.75,"s":"e"},{"t":1.25,"v":1329.68,"s":"e"},{"t":1.5,"v":1329.6,"s":"e"},{"t":1.75,"v":1329.54,"s":"e"},{"t":2,"v":1329.48,"s":"e"},{"t":2.25,"v":1329.42,"s":"e"},{"t":2.5,"v":1329.36,"s":"e"},{"t":2.75,"v":1329.3,"s":"e"},{"t":3,"v":1329.24,"s":"e"},{"t":3.25,"v":1329.18,"s":"e"},{"t":3.5,"v":1329.12,"s":"e"},{"t":3.75,"v":1329.07,"s":"e"},{"t":4,"v":1329.02,"s":"e"},{"t":4.25,"v":1328.97,"s":"e"},{"t":4.5,"v":1328.92,"s":"e"},{"t":4.75,"v":1328.87,"s":"e"},{"t":5,"v":1328.82,"s":"e"},{"t":5.25,"v":1328.77,"s":"e"},{"t":5.5,"v":1328.72,"s":"e"},{"t":5.75,"v":1328.67,"s":"e"},{"t":6,"v":1328.62,"s":"e"},{"t":6.25,"v":1328.57,"s":"e"},{"t":6.5,"v":1328.52,"s":"e"},{"t":6.75,"v":1328.46,"s":"e"},{"t":7,"v":1328.4,"s":"e"},{"t":7.25,"v":1328.34,"s":"e"},{"t":7.5,"v":1328.28,"s":"e"},{"t":7.75,"v":1328.22,"s":"e"},{"t":8,"v":1328.16,"s":"e"},{"t":8.3,"v":1328.12,"s":"e"},{"t":8.6,"v":1328.12,"s":"e"},{"t":8.9,"v":1328.12,"s":"e"},{"t":9.2,"v":1328.12,"s":"e"},{"t":9.5,"v":1328.12,"s":"e"},{"t":9.8,"v":1328.12,"s":"e"},{"t":10.1,"v":1328.12,"s":"e"},{"t":10.3,"v":1326.9,"s":"a"},{"t":10.45,"v":1326.9,"s":"a"},{"t":10.6,"v":1326.9,"s":"a"},{"t":10.75,"v":1326.9,"s":"a"},{"t":10.9,"v":1326.9,"s":"a"},{"t":11.05,"v":1326.9,"s":"a"},{"t":11.2,"v":1326.9,"s":"a"},{"t":11.35,"v":1326.9,"s":"a"},{"t":11.5,"v":1326.9,"s":"a"},{"t":11.7,"v":1326.3,"s":"a"},{"t":11.95,"v":1325.7,"s":"a"},{"t":12.15,"v":1325.55,"s":"a"},{"t":12.4,"v":1325.45,"s":"a"},{"t":12.65,"v":1325.45,"s":"a"},{"t":12.9,"v":1325.45,"s":"a"},{"t":13.15,"v":1325.45,"s":"a"},{"t":13.4,"v":1325.45,"s":"a"},{"t":13.65,"v":1325.45,"s":"a"},{"t":13.9,"v":1325.45,"s":"a"},{"t":14.15,"v":1325.45,"s":"a"},{"t":14.4,"v":1325.45,"s":"a"},{"t":14.65,"v":1325.45,"s":"a"},{"t":14.9,"v":1325.45,"s":"e"},{"t":15.25,"v":1325.45,"s":"e"},{"t":15.55,"v":1325.45,"s":"a"},{"t":15.85,"v":1325.45,"s":"a"},{"t":16.1,"v":1325.45,"s":"a"},{"t":16.3,"v":1325.45,"s":"a"},{"t":0.3,"v":1330,"s":"G"}],
"d15":[{"t":0.5,"v":1441,"s":"a"},{"t":0.95,"v":1440.8,"s":"a"},{"t":1.4,"v":1440,"s":"a"},{"t":1.85,"v":1439.2,"s":"a"},{"t":2.3,"v":1438.5,"s":"a"},{"t":2.75,"v":1437.7,"s":"a"},{"t":3.2,"v":1437,"s":"a"},{"t":3.7,"v":1436.1,"s":"a"},{"t":3.9,"v":1430,"s":"a"},{"t":4.1,"v":1406,"s":"a"},{"t":4.55,"v":1405.2,"s":"a"},{"t":5,"v":1404.5,"s":"a"},{"t":5.45,"v":1404,"s":"a"},{"t":5.9,"v":1403.6,"s":"a"},{"t":6.35,"v":1403.3,"s":"a"},{"t":6.8,"v":1403.1,"s":"a"},{"t":7.25,"v":1403,"s":"a"},{"t":7.7,"v":1403,"s":"a"},{"t":8.15,"v":1403,"s":"a"},{"t":8.6,"v":1403,"s":"a"},{"t":9.05,"v":1403,"s":"a"},{"t":9.5,"v":1403,"s":"a"},{"t":9.9,"v":1403,"s":"a"},{"t":10.3,"v":1402.5,"s":"e"},{"t":10.75,"v":1402.5,"s":"e"},{"t":11.2,"v":1402.5,"s":"e"},{"t":11.65,"v":1402.4,"s":"e"},{"t":12.1,"v":1402.4,"s":"e"},{"t":12.55,"v":1402.4,"s":"e"},{"t":13,"v":1402.3,"s":"e"},{"t":13.45,"v":1402.3,"s":"e"},{"t":13.9,"v":1402.3,"s":"e"},{"t":14.35,"v":1402.3,"s":"e"},{"t":14.8,"v":1402.2,"s":"e"},{"t":15.25,"v":1402.2,"s":"e"},{"t":15.7,"v":1402.2,"s":"e"},{"t":16.15,"v":1402.2,"s":"e"},{"t":16.6,"v":1402.1,"s":"e"},{"t":17.05,"v":1402.1,"s":"e"},{"t":17.5,"v":1402.1,"s":"e"},{"t":17.95,"v":1402.1,"s":"e"},{"t":18.4,"v":1402.1,"s":"e"},{"t":18.85,"v":1402.1,"s":"e"},{"t":19.3,"v":1402,"s":"a"},{"t":19.75,"v":1402,"s":"a"},{"t":20.2,"v":1402,"s":"a"},{"t":20.65,"v":1402,"s":"a"},{"t":21.1,"v":1402,"s":"a"},{"t":21.5,"v":1402,"s":"e"},{"t":21.9,"v":1402,"s":"e"},{"t":22.3,"v":1402,"s":"a"},{"t":22.75,"v":1402,"s":"a"},{"t":23.2,"v":1402,"s":"a"},{"t":23.6,"v":1402,"s":"e"},{"t":0.3,"v":1471.5,"s":"G"}],
"d16":[{"t":0.5,"v":1669.2,"s":"a"},{"t":1.3,"v":1668.3,"s":"a"},{"t":2.1,"v":1667.4,"s":"a"},{"t":2.9,"v":1666.5,"s":"a"},{"t":3.7,"v":1665.6,"s":"a"},{"t":4.5,"v":1664.8,"s":"a"},{"t":5.3,"v":1664,"s":"a"},{"t":6.1,"v":1663.3,"s":"a"},{"t":6.9,"v":1662.6,"s":"a"},{"t":7.5,"v":1662,"s":"a"},{"t":7.7,"v":1647,"s":"a"},{"t":7.9,"v":1631.8,"s":"a"},{"t":8.7,"v":1631.3,"s":"a"},{"t":9.5,"v":1631.1,"s":"a"},{"t":10.3,"v":1631,"s":"a"},{"t":11.1,"v":1631,"s":"a"},{"t":11.9,"v":1631,"s":"a"},{"t":12.7,"v":1630.9,"s":"a"},{"t":13.5,"v":1630.9,"s":"a"},{"t":14.3,"v":1630.8,"s":"a"},{"t":15.1,"v":1630.8,"s":"a"},{"t":15.9,"v":1630.7,"s":"a"},{"t":16.6,"v":1629.5,"s":"a"},{"t":17.3,"v":1628.2,"s":"a"},{"t":18,"v":1627,"s":"a"},{"t":18.7,"v":1626,"s":"a"},{"t":19.4,"v":1625.1,"s":"a"},{"t":20.1,"v":1624.3,"s":"a"},{"t":20.8,"v":1623.6,"s":"a"},{"t":21.5,"v":1623,"s":"a"},{"t":22.2,"v":1622.5,"s":"a"},{"t":22.9,"v":1622,"s":"a"},{"t":23.6,"v":1621.6,"s":"a"},{"t":24.3,"v":1621.3,"s":"a"},{"t":25,"v":1621,"s":"a"},{"t":25.7,"v":1620.8,"s":"a"},{"t":26.4,"v":1620.6,"s":"a"},{"t":27.1,"v":1620.5,"s":"a"},{"t":27.7,"v":1620.3,"s":"e"},{"t":28.5,"v":1620.2,"s":"e"},{"t":29.3,"v":1620.1,"s":"e"},{"t":30.1,"v":1620.1,"s":"e"},{"t":30.9,"v":1620,"s":"e"},{"t":31.7,"v":1620,"s":"e"},{"t":32.5,"v":1620,"s":"e"},{"t":33.3,"v":1620,"s":"e"},{"t":34.1,"v":1620,"s":"e"},{"t":34.9,"v":1620,"s":"e"},{"t":35.7,"v":1620,"s":"e"},{"t":36.3,"v":1620,"s":"e"},{"t":37,"v":1620,"s":"a"},{"t":37.8,"v":1620,"s":"a"},{"t":38.6,"v":1620,"s":"a"},{"t":39.4,"v":1620,"s":"a"},{"t":40,"v":1620,"s":"e"},{"t":0.3,"v":1669.5,"s":"G"}],
"d17":[{"t":0.5,"v":1668.8,"s":"e"},{"t":1.4,"v":1668.2,"s":"e"},{"t":2.3,"v":1667.6,"s":"e"},{"t":3.2,"v":1667.1,"s":"e"},{"t":4.1,"v":1666.6,"s":"e"},{"t":5,"v":1666.2,"s":"e"},{"t":5.9,"v":1665.8,"s":"e"},{"t":6.8,"v":1665.4,"s":"e"},{"t":7.7,"v":1665.1,"s":"e"},{"t":8.6,"v":1664.8,"s":"e"},{"t":9.5,"v":1664.5,"s":"e"},{"t":10.4,"v":1664.3,"s":"e"},{"t":11.3,"v":1664.1,"s":"e"},{"t":12.2,"v":1663.9,"s":"e"},{"t":13.1,"v":1663.7,"s":"e"},{"t":14,"v":1663.5,"s":"e"},{"t":14.9,"v":1663.4,"s":"e"},{"t":15.8,"v":1663.3,"s":"e"},{"t":16.7,"v":1663.2,"s":"e"},{"t":17.6,"v":1663.1,"s":"e"},{"t":18.5,"v":1663,"s":"e"},{"t":19.4,"v":1663,"s":"e"},{"t":20.1,"v":1662.5,"s":"a"},{"t":20.7,"v":1661.8,"s":"a"},{"t":21.3,"v":1661,"s":"a"},{"t":21.7,"v":1660.4,"s":"a"},{"t":22,"v":1630.5,"s":"a"},{"t":22.8,"v":1630.5,"s":"a"},{"t":23.6,"v":1630.5,"s":"a"},{"t":24.4,"v":1630.5,"s":"a"},{"t":25.2,"v":1630.5,"s":"a"},{"t":26,"v":1630.5,"s":"a"},{"t":26.8,"v":1630.3,"s":"a"},{"t":27.4,"v":1630,"s":"a"},{"t":28.1,"v":1629,"s":"a"},{"t":28.8,"v":1628,"s":"a"},{"t":29.6,"v":1627,"s":"a"},{"t":30.4,"v":1626,"s":"a"},{"t":31.2,"v":1625,"s":"a"},{"t":32,"v":1624.2,"s":"a"},{"t":32.8,"v":1623.4,"s":"a"},{"t":33.6,"v":1622.6,"s":"a"},{"t":34.2,"v":1621.8,"s":"a"},{"t":34.5,"v":1582.2,"s":"a"},{"t":34.7,"v":1580.8,"s":"a"},{"t":35,"v":1553.3,"s":"a"},{"t":35.8,"v":1553.3,"s":"a"},{"t":36.6,"v":1553.3,"s":"a"},{"t":37.4,"v":1553.3,"s":"a"},{"t":38.2,"v":1553.3,"s":"a"},{"t":39,"v":1553.2,"s":"a"},{"t":39.7,"v":1551.6,"s":"a"},{"t":40.5,"v":1551.4,"s":"a"},{"t":41.3,"v":1551.4,"s":"a"},{"t":42.1,"v":1551.4,"s":"a"},{"t":42.9,"v":1551.4,"s":"a"},{"t":43.6,"v":1551.4,"s":"a"},{"t":44.3,"v":1551.4,"s":"e"},{"t":45,"v":1551.4,"s":"a"},{"t":45.8,"v":1551.4,"s":"a"},{"t":46.6,"v":1551.4,"s":"e"},{"t":47.3,"v":1551.4,"s":"a"},{"t":0.3,"v":1669,"s":"G"}],
"d18":[{"t":0.5,"v":1618.6,"s":"a"},{"t":1.1,"v":1617.6,"s":"a"},{"t":1.7,"v":1616.6,"s":"a"},{"t":2.3,"v":1615.6,"s":"a"},{"t":2.9,"v":1614.6,"s":"a"},{"t":3.5,"v":1613.7,"s":"a"},{"t":4.1,"v":1613,"s":"a"},{"t":4.7,"v":1612.6,"s":"a"},{"t":5.3,"v":1612.4,"s":"a"},{"t":5.9,"v":1612.2,"s":"a"},{"t":6.5,"v":1612,"s":"a"},{"t":7.1,"v":1611.9,"s":"a"},{"t":7.7,"v":1611.8,"s":"a"},{"t":8.3,"v":1611.7,"s":"a"},{"t":8.9,"v":1611.6,"s":"a"},{"t":9.5,"v":1611.5,"s":"a"},{"t":10.1,"v":1611.5,"s":"a"},{"t":10.5,"v":1611.5,"s":"a"},{"t":10.7,"v":1581,"s":"a"},{"t":11.3,"v":1579.8,"s":"a"},{"t":11.9,"v":1578.6,"s":"a"},{"t":12.5,"v":1577.3,"s":"a"},{"t":13.1,"v":1576,"s":"a"},{"t":13.7,"v":1574.8,"s":"a"},{"t":14.3,"v":1573.6,"s":"a"},{"t":14.9,"v":1572.5,"s":"a"},{"t":15.5,"v":1571.7,"s":"a"},{"t":16.1,"v":1571.3,"s":"a"},{"t":16.7,"v":1571,"s":"a"},{"t":17.3,"v":1570.7,"s":"a"},{"t":17.9,"v":1570.4,"s":"a"},{"t":18.5,"v":1570.2,"s":"a"},{"t":19.1,"v":1570,"s":"a"},{"t":19.7,"v":1569.8,"s":"a"},{"t":20.3,"v":1569.6,"s":"a"},{"t":20.9,"v":1569.5,"s":"a"},{"t":21.5,"v":1569.4,"s":"a"},{"t":22.1,"v":1569.3,"s":"a"},{"t":22.7,"v":1569.3,"s":"a"},{"t":23.3,"v":1569.3,"s":"a"},{"t":23.9,"v":1569.3,"s":"a"},{"t":24.4,"v":1569.3,"s":"a"},{"t":25,"v":1569.3,"s":"e"},{"t":25.6,"v":1569.3,"s":"e"},{"t":26.2,"v":1569.3,"s":"e"},{"t":26.8,"v":1569.3,"s":"e"},{"t":27.4,"v":1569.3,"s":"e"},{"t":28,"v":1569.3,"s":"e"},{"t":28.6,"v":1569.3,"s":"e"},{"t":29.2,"v":1569.3,"s":"e"},{"t":29.8,"v":1569.3,"s":"a"},{"t":30.4,"v":1569.3,"s":"a"},{"t":31,"v":1569.3,"s":"e"},{"t":0.3,"v":1619,"s":"G"}],
"d19":[{"t":0.5,"v":1579.3,"s":"a"},{"t":1,"v":1578.2,"s":"a"},{"t":1.5,"v":1577.1,"s":"a"},{"t":2,"v":1576.1,"s":"a"},{"t":2.5,"v":1575.1,"s":"a"},{"t":3,"v":1574.1,"s":"a"},{"t":3.5,"v":1573.2,"s":"a"},{"t":4,"v":1572.3,"s":"a"},{"t":4.5,"v":1571.5,"s":"a"},{"t":5,"v":1571,"s":"a"},{"t":5.6,"v":1570.9,"s":"a"},{"t":6.4,"v":1570.8,"s":"a"},{"t":7.2,"v":1570.7,"s":"a"},{"t":8,"v":1570.6,"s":"a"},{"t":8.8,"v":1570.6,"s":"a"},{"t":9.6,"v":1570.5,"s":"a"},{"t":10.4,"v":1570.5,"s":"a"},{"t":11,"v":1570.3,"s":"a"},{"t":11.7,"v":1569.5,"s":"a"},{"t":12.4,"v":1568.6,"s":"a"},{"t":13.1,"v":1567.8,"s":"a"},{"t":13.8,"v":1567.1,"s":"a"},{"t":14.5,"v":1566.5,"s":"a"},{"t":15.2,"v":1565.9,"s":"a"},{"t":15.9,"v":1565.3,"s":"a"},{"t":16.6,"v":1564.7,"s":"a"},{"t":17.3,"v":1564.1,"s":"a"},{"t":18,"v":1563.6,"s":"a"},{"t":18.7,"v":1563,"s":"a"},{"t":19.4,"v":1562.5,"s":"a"},{"t":20.1,"v":1562,"s":"a"},{"t":20.8,"v":1561.5,"s":"a"},{"t":21.5,"v":1561.1,"s":"a"},{"t":22.2,"v":1560.7,"s":"a"},{"t":22.9,"v":1560.4,"s":"a"},{"t":23.6,"v":1560.3,"s":"a"},{"t":24.4,"v":1560.3,"s":"a"},{"t":25.2,"v":1560.3,"s":"a"},{"t":26,"v":1560.3,"s":"a"},{"t":26.8,"v":1560.3,"s":"a"},{"t":27.6,"v":1560.3,"s":"a"},{"t":28.3,"v":1560.3,"s":"a"},{"t":28.8,"v":1560.1,"s":"e"},{"t":29.6,"v":1560,"s":"e"},{"t":30.4,"v":1560,"s":"e"},{"t":31.2,"v":1560,"s":"e"},{"t":32,"v":1560,"s":"e"},{"t":32.8,"v":1560,"s":"e"},{"t":33.6,"v":1560,"s":"e"},{"t":34.4,"v":1560,"s":"e"},{"t":35.2,"v":1560,"s":"e"},{"t":35.9,"v":1560,"s":"e"},{"t":36.6,"v":1560,"s":"a"},{"t":37.3,"v":1560,"s":"a"},{"t":38,"v":1560,"s":"a"},{"t":38.6,"v":1560,"s":"a"},{"t":39,"v":1560,"s":"e"},{"t":0.3,"v":1579.8,"s":"G"}],
"d20":[{"t":0.5,"v":1579.3,"s":"e"},{"t":1,"v":1578.7,"s":"e"},{"t":1.5,"v":1578.2,"s":"e"},{"t":2,"v":1577.8,"s":"e"},{"t":2.6,"v":1577.5,"s":"e"},{"t":3.3,"v":1577.4,"s":"e"},{"t":4,"v":1577.2,"s":"e"},{"t":4.7,"v":1577.1,"s":"e"},{"t":5.4,"v":1577,"s":"e"},{"t":6.1,"v":1576.9,"s":"e"},{"t":6.8,"v":1576.8,"s":"e"},{"t":7.5,"v":1576.7,"s":"e"},{"t":8.2,"v":1576.5,"s":"e"},{"t":9,"v":1576.3,"s":"e"},{"t":9.8,"v":1576.2,"s":"e"},{"t":10.6,"v":1576.2,"s":"e"},{"t":11.4,"v":1576.2,"s":"e"},{"t":12.2,"v":1576.2,"s":"e"},{"t":13,"v":1576.2,"s":"e"},{"t":13.8,"v":1576.2,"s":"e"},{"t":14.6,"v":1576.2,"s":"e"},{"t":15.4,"v":1576.2,"s":"e"},{"t":16,"v":1575.5,"s":"a"},{"t":16.6,"v":1574,"s":"a"},{"t":17.2,"v":1572.8,"s":"a"},{"t":17.8,"v":1571.9,"s":"a"},{"t":18.4,"v":1571.2,"s":"a"},{"t":19,"v":1570.8,"s":"a"},{"t":19.6,"v":1570.6,"s":"a"},{"t":20.4,"v":1570.5,"s":"a"},{"t":21.2,"v":1570.4,"s":"a"},{"t":22,"v":1570.3,"s":"a"},{"t":22.8,"v":1570.3,"s":"a"},{"t":23.6,"v":1570.2,"s":"a"},{"t":24.3,"v":1570.1,"s":"a"},{"t":24.9,"v":1569.3,"s":"a"},{"t":25.6,"v":1568.3,"s":"a"},{"t":26.3,"v":1567.3,"s":"a"},{"t":27,"v":1566.4,"s":"a"},{"t":27.7,"v":1565.6,"s":"a"},{"t":28.4,"v":1564.8,"s":"a"},{"t":29.1,"v":1564.1,"s":"a"},{"t":29.8,"v":1563.5,"s":"a"},{"t":30.5,"v":1562.9,"s":"a"},{"t":31.2,"v":1562.4,"s":"a"},{"t":31.9,"v":1561.9,"s":"a"},{"t":32.6,"v":1561.5,"s":"a"},{"t":33.3,"v":1561.1,"s":"a"},{"t":34,"v":1560.8,"s":"a"},{"t":34.7,"v":1560.5,"s":"a"},{"t":35.4,"v":1560.3,"s":"a"},{"t":36.1,"v":1560.2,"s":"a"},{"t":36.8,"v":1560.1,"s":"a"},{"t":37.5,"v":1560,"s":"a"},{"t":38.3,"v":1560,"s":"a"},{"t":39.1,"v":1560,"s":"a"},{"t":39.9,"v":1560,"s":"a"},{"t":40.7,"v":1560,"s":"a"},{"t":41.5,"v":1560,"s":"a"},{"t":42.3,"v":1560,"s":"a"},{"t":43.1,"v":1560,"s":"a"},{"t":43.8,"v":1560,"s":"a"},{"t":44.4,"v":1560,"s":"e"},{"t":45.2,"v":1560,"s":"e"},{"t":46,"v":1560,"s":"e"},{"t":46.8,"v":1560,"s":"e"},{"t":47.6,"v":1560,"s":"e"},{"t":48.4,"v":1560,"s":"e"},{"t":49.1,"v":1560,"s":"a"},{"t":49.8,"v":1560,"s":"a"},{"t":50.4,"v":1560,"s":"e"},{"t":51,"v":1560,"s":"a"},{"t":0.3,"v":1579.8,"s":"G"}],
"d21":[{"t":0.4,"v":1540.5,"s":"a"},{"t":0.8,"v":1540.1,"s":"a"},{"t":1.2,"v":1539.8,"s":"a"},{"t":1.6,"v":1539.7,"s":"a"},{"t":2,"v":1539.7,"s":"a"},{"t":2.3,"v":1539.6,"s":"a"},{"t":2.7,"v":1538.7,"s":"a"},{"t":3.1,"v":1537.8,"s":"a"},{"t":3.5,"v":1536.9,"s":"a"},{"t":3.9,"v":1536,"s":"a"},{"t":4.3,"v":1535.1,"s":"a"},{"t":4.7,"v":1534.2,"s":"a"},{"t":5.1,"v":1533.3,"s":"a"},{"t":5.45,"v":1532.4,"s":"a"},{"t":5.6,"v":1502.3,"s":"a"},{"t":6,"v":1501.9,"s":"a"},{"t":6.4,"v":1501.5,"s":"a"},{"t":6.8,"v":1501.2,"s":"a"},{"t":7.2,"v":1501,"s":"a"},{"t":7.6,"v":1500.9,"s":"a"},{"t":8,"v":1500.8,"s":"a"},{"t":8.4,"v":1500.7,"s":"a"},{"t":8.8,"v":1500.7,"s":"a"},{"t":9.2,"v":1500.6,"s":"a"},{"t":9.6,"v":1500.6,"s":"a"},{"t":10,"v":1500.6,"s":"a"},{"t":10.4,"v":1500.6,"s":"a"},{"t":10.8,"v":1500.6,"s":"a"},{"t":11.2,"v":1500.6,"s":"a"},{"t":11.6,"v":1500.6,"s":"a"},{"t":11.9,"v":1500.6,"s":"a"},{"t":12.2,"v":1500.3,"s":"e"},{"t":12.6,"v":1500.3,"s":"e"},{"t":13,"v":1500.2,"s":"e"},{"t":13.4,"v":1500.2,"s":"e"},{"t":13.8,"v":1500.2,"s":"e"},{"t":14.2,"v":1500.1,"s":"e"},{"t":14.6,"v":1500.1,"s":"e"},{"t":15,"v":1500.1,"s":"e"},{"t":15.4,"v":1500.1,"s":"e"},{"t":15.8,"v":1500.1,"s":"e"},{"t":16.2,"v":1500,"s":"e"},{"t":16.6,"v":1500,"s":"e"},{"t":17,"v":1500,"s":"e"},{"t":17.4,"v":1500,"s":"e"},{"t":17.8,"v":1500,"s":"e"},{"t":18.2,"v":1500,"s":"e"},{"t":18.6,"v":1500,"s":"e"},{"t":19,"v":1500,"s":"e"},{"t":19.4,"v":1500,"s":"a"},{"t":19.7,"v":1500,"s":"a"},{"t":20,"v":1500,"s":"a"},{"t":20.3,"v":1500,"s":"e"},{"t":0.2,"v":1540.8,"s":"G"}],
"d22":[{"t":0.6,"v":1490.8,"s":"a"},{"t":0.85,"v":1490.8,"s":"a"},{"t":1.1,"v":1490.8,"s":"a"},{"t":1.35,"v":1490.6,"s":"a"},{"t":1.6,"v":1490.1,"s":"a"},{"t":1.85,"v":1489.5,"s":"a"},{"t":2.1,"v":1489,"s":"a"},{"t":2.35,"v":1488.5,"s":"a"},{"t":2.6,"v":1488,"s":"a"},{"t":2.8,"v":1457.3,"s":"a"},{"t":3.2,"v":1456.8,"s":"a"},{"t":3.65,"v":1456.3,"s":"a"},{"t":4.1,"v":1455.9,"s":"a"},{"t":4.55,"v":1455.5,"s":"a"},{"t":5,"v":1455.2,"s":"a"},{"t":5.45,"v":1455,"s":"a"},{"t":5.9,"v":1454.8,"s":"a"},{"t":6.35,"v":1454.6,"s":"a"},{"t":6.8,"v":1454.4,"s":"a"},{"t":7.25,"v":1454.2,"s":"a"},{"t":7.7,"v":1454.1,"s":"a"},{"t":8.15,"v":1454,"s":"a"},{"t":8.6,"v":1453.8,"s":"a"},{"t":9.05,"v":1453.7,"s":"a"},{"t":9.5,"v":1453.6,"s":"a"},{"t":9.95,"v":1453.5,"s":"a"},{"t":10.4,"v":1453.4,"s":"a"},{"t":10.85,"v":1453.3,"s":"a"},{"t":11.3,"v":1453.3,"s":"a"},{"t":11.75,"v":1453.2,"s":"a"},{"t":12.2,"v":1453.2,"s":"a"},{"t":12.5,"v":1453.1,"s":"a"},{"t":12.7,"v":1452.5,"s":"e"},{"t":13.05,"v":1452.1,"s":"e"},{"t":13.4,"v":1451.8,"s":"e"},{"t":13.75,"v":1451.6,"s":"e"},{"t":14.1,"v":1451.4,"s":"e"},{"t":14.45,"v":1451.3,"s":"e"},{"t":14.8,"v":1451.2,"s":"e"},{"t":15.15,"v":1451.1,"s":"e"},{"t":15.5,"v":1451.1,"s":"e"},{"t":15.85,"v":1451,"s":"e"},{"t":16.2,"v":1451,"s":"e"},{"t":16.55,"v":1451,"s":"e"},{"t":16.9,"v":1451,"s":"e"},{"t":17.25,"v":1450.9,"s":"e"},{"t":17.6,"v":1450.9,"s":"e"},{"t":17.95,"v":1450.9,"s":"e"},{"t":18.3,"v":1450.9,"s":"e"},{"t":18.6,"v":1450.9,"s":"e"},{"t":18.9,"v":1450.8,"s":"a"},{"t":19.25,"v":1450.8,"s":"a"},{"t":19.6,"v":1450.8,"s":"a"},{"t":19.95,"v":1450.8,"s":"a"},{"t":20.3,"v":1450.8,"s":"a"},{"t":20.75,"v":1450.8,"s":"e"},{"t":21.05,"v":1450.8,"s":"e"},{"t":21.35,"v":1450.8,"s":"e"},{"t":21.7,"v":1450.8,"s":"a"},{"t":22,"v":1450.8,"s":"a"},{"t":22.4,"v":1450.8,"s":"e"},{"t":0.3,"v":1532,"s":"G"}],
"d23":[{"t":0.55,"v":1531.5,"s":"e"},{"t":0.8,"v":1531.5,"s":"e"},{"t":1.05,"v":1531.5,"s":"e"},{"t":1.3,"v":1531.3,"s":"e"},{"t":1.55,"v":1531,"s":"e"},{"t":1.8,"v":1521,"s":"e"},{"t":2.05,"v":1501.5,"s":"e"},{"t":2.3,"v":1501.2,"s":"e"},{"t":2.55,"v":1501,"s":"e"},{"t":2.8,"v":1500.8,"s":"e"},{"t":3.1,"v":1500.7,"s":"e"},{"t":3.4,"v":1500.6,"s":"e"},{"t":3.7,"v":1500.5,"s":"e"},{"t":4,"v":1500.4,"s":"e"},{"t":4.3,"v":1500.4,"s":"e"},{"t":4.6,"v":1500.4,"s":"e"},{"t":4.9,"v":1500.4,"s":"e"},{"t":5.2,"v":1500.4,"s":"e"},{"t":5.5,"v":1500.4,"s":"e"},{"t":5.8,"v":1500.4,"s":"e"},{"t":6.1,"v":1500.4,"s":"e"},{"t":6.4,"v":1500.4,"s":"e"},{"t":6.7,"v":1500.4,"s":"e"},{"t":7,"v":1500.4,"s":"e"},{"t":7.3,"v":1500.4,"s":"e"},{"t":7.6,"v":1500.4,"s":"e"},{"t":7.9,"v":1500.4,"s":"e"},{"t":8.2,"v":1500.4,"s":"e"},{"t":8.45,"v":1500.2,"s":"a"},{"t":8.65,"v":1500,"s":"a"},{"t":8.8,"v":1489,"s":"a"},{"t":8.95,"v":1479,"s":"a"},{"t":9.05,"v":1472,"s":"a"},{"t":9.25,"v":1459,"s":"a"},{"t":9.7,"v":1458.2,"s":"a"},{"t":10.2,"v":1457.6,"s":"a"},{"t":10.7,"v":1457,"s":"a"},{"t":11.2,"v":1456.5,"s":"a"},{"t":11.7,"v":1456,"s":"a"},{"t":12.2,"v":1455.6,"s":"a"},{"t":12.7,"v":1455.2,"s":"a"},{"t":13.2,"v":1455,"s":"a"},{"t":13.45,"v":1427,"s":"a"},{"t":13.7,"v":1424.2,"s":"a"},{"t":14.2,"v":1423.8,"s":"a"},{"t":14.7,"v":1423.5,"s":"a"},{"t":15.2,"v":1423.3,"s":"a"},{"t":15.7,"v":1423.1,"s":"a"},{"t":16.2,"v":1422.9,"s":"a"},{"t":16.7,"v":1422.7,"s":"a"},{"t":17.2,"v":1422.5,"s":"a"},{"t":17.7,"v":1422.3,"s":"a"},{"t":18.2,"v":1422.2,"s":"a"},{"t":18.7,"v":1422.1,"s":"a"},{"t":19.2,"v":1422,"s":"a"},{"t":19.7,"v":1421.9,"s":"a"},{"t":20.2,"v":1421.8,"s":"a"},{"t":20.7,"v":1421.8,"s":"a"},{"t":21.2,"v":1421.8,"s":"a"},{"t":21.7,"v":1421.8,"s":"a"},{"t":22.2,"v":1421.8,"s":"a"},{"t":22.7,"v":1421.8,"s":"a"},{"t":23.2,"v":1421.8,"s":"a"},{"t":23.7,"v":1421.8,"s":"a"},{"t":24.2,"v":1421.8,"s":"a"},{"t":24.6,"v":1421.8,"s":"e"},{"t":25,"v":1421.8,"s":"e"},{"t":25.4,"v":1421.8,"s":"e"},{"t":25.8,"v":1421.8,"s":"a"},{"t":26.2,"v":1421.8,"s":"a"},{"t":26.5,"v":1421.8,"s":"a"},{"t":0.3,"v":1532,"s":"G"}],
"d24":[{"t":0.35,"v":1477.75,"s":"a"},{"t":0.52,"v":1477.35,"s":"a"},{"t":0.7,"v":1477.05,"s":"a"},{"t":0.9,"v":1476.8,"s":"a"},{"t":1.1,"v":1476.72,"s":"a"},{"t":1.4,"v":1476.72,"s":"a"},{"t":1.7,"v":1476.72,"s":"a"},{"t":2,"v":1476.72,"s":"a"},{"t":2.3,"v":1476.72,"s":"a"},{"t":2.5,"v":1476.7,"s":"a"},{"t":2.75,"v":1476.3,"s":"a"},{"t":3,"v":1475.9,"s":"a"},{"t":3.25,"v":1475.5,"s":"a"},{"t":3.5,"v":1475.2,"s":"a"},{"t":3.75,"v":1474.9,"s":"a"},{"t":4,"v":1474.7,"s":"a"},{"t":4.3,"v":1474.5,"s":"a"},{"t":4.7,"v":1474.35,"s":"a"},{"t":5.1,"v":1474.25,"s":"a"},{"t":5.5,"v":1474.15,"s":"a"},{"t":5.9,"v":1474.05,"s":"a"},{"t":6.3,"v":1473.95,"s":"a"},{"t":6.7,"v":1473.9,"s":"a"},{"t":7.1,"v":1473.85,"s":"a"},{"t":7.5,"v":1473.8,"s":"a"},{"t":7.9,"v":1473.7,"s":"a"},{"t":8.3,"v":1473.65,"s":"a"},{"t":8.7,"v":1473.6,"s":"a"},{"t":9.1,"v":1473.55,"s":"a"},{"t":9.5,"v":1473.55,"s":"a"},{"t":9.9,"v":1473.55,"s":"a"},{"t":10.3,"v":1473.55,"s":"a"},{"t":10.7,"v":1473.55,"s":"a"},{"t":10.95,"v":1473.3,"s":"e"},{"t":11.2,"v":1473,"s":"e"},{"t":11.45,"v":1472.8,"s":"e"},{"t":11.7,"v":1472.6,"s":"e"},{"t":11.95,"v":1472.4,"s":"e"},{"t":12.2,"v":1472.2,"s":"e"},{"t":12.45,"v":1472,"s":"e"},{"t":12.7,"v":1471.85,"s":"e"},{"t":12.95,"v":1471.7,"s":"e"},{"t":13.2,"v":1471.55,"s":"e"},{"t":13.45,"v":1471.4,"s":"e"},{"t":13.7,"v":1471.3,"s":"e"},{"t":13.95,"v":1471.2,"s":"e"},{"t":14.2,"v":1471.1,"s":"e"},{"t":14.45,"v":1471,"s":"e"},{"t":14.7,"v":1470.9,"s":"e"},{"t":14.95,"v":1470.85,"s":"e"},{"t":15.2,"v":1470.55,"s":"e"},{"t":15.45,"v":1470.5,"s":"e"},{"t":15.75,"v":1470.3,"s":"e"},{"t":16,"v":1470,"s":"e"},{"t":16.3,"v":1469.85,"s":"e"},{"t":16.6,"v":1469.8,"s":"e"},{"t":16.9,"v":1469.75,"s":"e"},{"t":17.2,"v":1469.75,"s":"e"},{"t":17.5,"v":1469.75,"s":"e"},{"t":17.8,"v":1469.75,"s":"a"},{"t":18.2,"v":1469.75,"s":"a"},{"t":18.6,"v":1469.75,"s":"a"},{"t":19,"v":1469.75,"s":"a"},{"t":19.4,"v":1469.75,"s":"a"},{"t":19.8,"v":1469.75,"s":"a"},{"t":20.2,"v":1469.75,"s":"a"},{"t":20.6,"v":1469.75,"s":"a"},{"t":21,"v":1469.75,"s":"e"},{"t":21.4,"v":1469.75,"s":"a"},{"t":21.8,"v":1469.75,"s":"a"},{"t":22.1,"v":1469.75,"s":"a"},{"t":22.5,"v":1469.75,"s":"e"},{"t":0.2,"v":1478.2,"s":"G"}],
"d25":[{"t":0.5,"v":1519,"s":"a"},{"t":0.75,"v":1496,"s":"a"},{"t":0.95,"v":1493.5,"s":"a"},{"t":1.3,"v":1493.5,"s":"a"},{"t":1.6,"v":1493.5,"s":"a"},{"t":1.95,"v":1493.5,"s":"a"},{"t":2.3,"v":1493.5,"s":"a"},{"t":2.6,"v":1493.5,"s":"a"},{"t":2.95,"v":1493.5,"s":"a"},{"t":3.3,"v":1493.5,"s":"a"},{"t":3.6,"v":1493.3,"s":"a"},{"t":3.95,"v":1492.5,"s":"a"},{"t":4.3,"v":1491.7,"s":"a"},{"t":4.65,"v":1490.9,"s":"a"},{"t":5,"v":1490.1,"s":"a"},{"t":5.35,"v":1489.3,"s":"a"},{"t":5.7,"v":1488.5,"s":"a"},{"t":6.05,"v":1487.7,"s":"a"},{"t":6.4,"v":1486.9,"s":"a"},{"t":6.75,"v":1486.1,"s":"a"},{"t":7.1,"v":1485.3,"s":"a"},{"t":7.45,"v":1484.5,"s":"a"},{"t":7.8,"v":1483.6,"s":"a"},{"t":8.15,"v":1483.1,"s":"a"},{"t":8.5,"v":1482.9,"s":"a"},{"t":8.85,"v":1482.8,"s":"a"},{"t":9.2,"v":1482.7,"s":"a"},{"t":9.55,"v":1482.6,"s":"a"},{"t":9.9,"v":1482.6,"s":"a"},{"t":10.25,"v":1482.6,"s":"a"},{"t":10.6,"v":1482.6,"s":"a"},{"t":10.95,"v":1482.6,"s":"a"},{"t":11.3,"v":1482.6,"s":"a"},{"t":11.65,"v":1482.6,"s":"a"},{"t":12,"v":1482.6,"s":"a"},{"t":12.35,"v":1482.6,"s":"a"},{"t":12.7,"v":1482.6,"s":"a"},{"t":13,"v":1482.3,"s":"e"},{"t":13.35,"v":1482.2,"s":"e"},{"t":13.7,"v":1482.1,"s":"e"},{"t":14.05,"v":1482,"s":"e"},{"t":14.4,"v":1482,"s":"e"},{"t":14.75,"v":1481.9,"s":"e"},{"t":15.1,"v":1481.9,"s":"e"},{"t":15.4,"v":1481.9,"s":"a"},{"t":15.75,"v":1481.9,"s":"a"},{"t":16.1,"v":1481.9,"s":"a"},{"t":16.45,"v":1481.9,"s":"a"},{"t":16.8,"v":1481.9,"s":"a"},{"t":17.15,"v":1481.9,"s":"a"},{"t":17.5,"v":1481.9,"s":"e"},{"t":0.3,"v":1534,"s":"G"}],
"d26":[{"t":0.5,"v":1514.2,"s":"e"},{"t":0.8,"v":1514,"s":"e"},{"t":1.1,"v":1513.9,"s":"e"},{"t":1.4,"v":1513.8,"s":"e"},{"t":1.7,"v":1513.7,"s":"e"},{"t":2,"v":1513.6,"s":"e"},{"t":2.3,"v":1513.6,"s":"e"},{"t":2.6,"v":1513.5,"s":"e"},{"t":2.9,"v":1513.5,"s":"e"},{"t":3.2,"v":1513.4,"s":"e"},{"t":3.5,"v":1513.4,"s":"e"},{"t":3.8,"v":1513.4,"s":"e"},{"t":4.1,"v":1513.3,"s":"e"},{"t":4.4,"v":1513.3,"s":"e"},{"t":4.7,"v":1513.3,"s":"e"},{"t":5,"v":1513.3,"s":"e"},{"t":5.3,"v":1513.3,"s":"e"},{"t":5.6,"v":1513.3,"s":"e"},{"t":5.9,"v":1513.3,"s":"e"},{"t":6.2,"v":1513.3,"s":"e"},{"t":6.5,"v":1513.3,"s":"e"},{"t":6.8,"v":1513.3,"s":"e"},{"t":7.1,"v":1513.3,"s":"e"},{"t":7.4,"v":1513.3,"s":"e"},{"t":7.7,"v":1513.3,"s":"e"},{"t":8,"v":1513.3,"s":"a"},{"t":8.4,"v":1513.3,"s":"a"},{"t":8.8,"v":1513.3,"s":"a"},{"t":9.2,"v":1513.3,"s":"a"},{"t":9.6,"v":1513.3,"s":"a"},{"t":10,"v":1513.3,"s":"a"},{"t":10.35,"v":1513.2,"s":"a"},{"t":10.7,"v":1512.4,"s":"a"},{"t":11.05,"v":1511.5,"s":"a"},{"t":11.4,"v":1510.6,"s":"a"},{"t":11.75,"v":1509.7,"s":"a"},{"t":12.1,"v":1508.8,"s":"a"},{"t":12.45,"v":1507.9,"s":"a"},{"t":12.8,"v":1507,"s":"a"},{"t":13.15,"v":1506.1,"s":"a"},{"t":13.5,"v":1505.2,"s":"a"},{"t":13.85,"v":1504.3,"s":"a"},{"t":14.2,"v":1503.5,"s":"a"},{"t":14.55,"v":1502.9,"s":"a"},{"t":14.9,"v":1502.7,"s":"a"},{"t":15.3,"v":1502.6,"s":"a"},{"t":15.7,"v":1502.5,"s":"a"},{"t":16.1,"v":1502.5,"s":"a"},{"t":16.5,"v":1502.4,"s":"a"},{"t":16.9,"v":1502.4,"s":"a"},{"t":17.3,"v":1502.4,"s":"a"},{"t":17.7,"v":1502.3,"s":"a"},{"t":18.1,"v":1502.3,"s":"a"},{"t":18.5,"v":1502.3,"s":"a"},{"t":18.9,"v":1502.3,"s":"a"},{"t":19.3,"v":1502.3,"s":"a"},{"t":19.7,"v":1502.3,"s":"a"},{"t":20.05,"v":1502.3,"s":"a"},{"t":20.45,"v":1502.3,"s":"e"},{"t":20.8,"v":1502.3,"s":"a"},{"t":21.1,"v":1502.3,"s":"a"},{"t":0.3,"v":1534,"s":"G"}],
"d27":[{"t":0.4,"v":1431.5,"s":"a"},{"t":0.7,"v":1431.5,"s":"a"},{"t":1,"v":1431.3,"s":"a"},{"t":1.6,"v":1430.3,"s":"a"},{"t":2.2,"v":1429.3,"s":"a"},{"t":2.8,"v":1428.4,"s":"a"},{"t":3.4,"v":1427.6,"s":"a"},{"t":4,"v":1426.9,"s":"a"},{"t":4.6,"v":1426.3,"s":"a"},{"t":5.2,"v":1425.8,"s":"a"},{"t":5.8,"v":1425.4,"s":"a"},{"t":6.4,"v":1425,"s":"a"},{"t":7,"v":1424.7,"s":"a"},{"t":7.6,"v":1424.4,"s":"a"},{"t":8.2,"v":1424.2,"s":"a"},{"t":8.8,"v":1424,"s":"a"},{"t":9.4,"v":1423.8,"s":"a"},{"t":10,"v":1423.6,"s":"a"},{"t":10.6,"v":1423.4,"s":"a"},{"t":11.2,"v":1423.2,"s":"a"},{"t":11.8,"v":1423,"s":"a"},{"t":12.4,"v":1422.9,"s":"a"},{"t":13,"v":1422.8,"s":"a"},{"t":13.6,"v":1422.7,"s":"a"},{"t":14.2,"v":1422.7,"s":"a"},{"t":14.8,"v":1422.6,"s":"a"},{"t":15.3,"v":1422.1,"s":"e"},{"t":15.9,"v":1421.8,"s":"e"},{"t":16.5,"v":1421.6,"s":"e"},{"t":17.1,"v":1421.4,"s":"e"},{"t":17.7,"v":1421.2,"s":"e"},{"t":18.3,"v":1421.1,"s":"e"},{"t":18.9,"v":1421,"s":"e"},{"t":19.5,"v":1420.9,"s":"e"},{"t":20.1,"v":1420.8,"s":"e"},{"t":20.7,"v":1420.7,"s":"e"},{"t":21.3,"v":1420.6,"s":"e"},{"t":21.9,"v":1420.6,"s":"e"},{"t":22.5,"v":1420.5,"s":"e"},{"t":23.1,"v":1420.5,"s":"e"},{"t":23.7,"v":1420.5,"s":"e"},{"t":24.3,"v":1420.5,"s":"e"},{"t":24.9,"v":1420.5,"s":"e"},{"t":25.5,"v":1420.5,"s":"e"},{"t":26.1,"v":1420.5,"s":"e"},{"t":26.7,"v":1420.5,"s":"e"},{"t":27.3,"v":1420.5,"s":"e"},{"t":27.9,"v":1420.5,"s":"e"},{"t":28.4,"v":1420.5,"s":"e"},{"t":29,"v":1420.5,"s":"a"},{"t":29.6,"v":1420.5,"s":"a"},{"t":30.2,"v":1420.5,"s":"a"},{"t":30.8,"v":1420.5,"s":"a"},{"t":31.4,"v":1420.5,"s":"a"},{"t":31.9,"v":1420.5,"s":"a"},{"t":32.3,"v":1420.5,"s":"e"},{"t":0.3,"v":1472.5,"s":"G"}],
"d28":[{"t":0.4,"v":1557.8,"s":"a"},{"t":0.6,"v":1557.5,"s":"a"},{"t":0.8,"v":1557.2,"s":"a"},{"t":1.1,"v":1557,"s":"a"},{"t":1.5,"v":1557,"s":"a"},{"t":1.9,"v":1557,"s":"a"},{"t":2.3,"v":1557,"s":"a"},{"t":2.7,"v":1557,"s":"a"},{"t":3,"v":1557,"s":"a"},{"t":3.4,"v":1556.4,"s":"a"},{"t":3.8,"v":1555.9,"s":"a"},{"t":4.2,"v":1555.4,"s":"a"},{"t":4.6,"v":1554.9,"s":"a"},{"t":5,"v":1554.4,"s":"a"},{"t":5.4,"v":1553.9,"s":"a"},{"t":5.8,"v":1553.4,"s":"a"},{"t":6.2,"v":1552.9,"s":"a"},{"t":6.6,"v":1552.4,"s":"a"},{"t":7,"v":1551.9,"s":"a"},{"t":7.4,"v":1551.5,"s":"a"},{"t":7.8,"v":1551.1,"s":"a"},{"t":8.2,"v":1550.8,"s":"a"},{"t":8.6,"v":1550.6,"s":"a"},{"t":9,"v":1550.4,"s":"a"},{"t":9.4,"v":1550.3,"s":"a"},{"t":9.8,"v":1550.3,"s":"a"},{"t":10.2,"v":1550.2,"s":"a"},{"t":10.6,"v":1550.2,"s":"a"},{"t":11,"v":1550.2,"s":"a"},{"t":11.4,"v":1550.2,"s":"a"},{"t":11.8,"v":1550.2,"s":"a"},{"t":12.2,"v":1550.2,"s":"a"},{"t":12.6,"v":1550.2,"s":"a"},{"t":13,"v":1550.2,"s":"a"},{"t":13.4,"v":1550.2,"s":"a"},{"t":13.8,"v":1550.2,"s":"a"},{"t":14.1,"v":1550.2,"s":"e"},{"t":14.45,"v":1550.2,"s":"e"},{"t":14.8,"v":1550.2,"s":"e"},{"t":15.15,"v":1550.2,"s":"e"},{"t":15.5,"v":1550.2,"s":"e"},{"t":15.85,"v":1550.2,"s":"e"},{"t":16.2,"v":1550.2,"s":"e"},{"t":16.55,"v":1550.2,"s":"e"},{"t":16.9,"v":1550.2,"s":"a"},{"t":17.3,"v":1550.2,"s":"a"},{"t":17.7,"v":1550.2,"s":"a"},{"t":18.1,"v":1550.2,"s":"a"},{"t":18.5,"v":1550.2,"s":"a"},{"t":18.9,"v":1550.2,"s":"a"},{"t":19.25,"v":1550.2,"s":"a"},{"t":19.55,"v":1550.2,"s":"e"},{"t":0.3,"v":1598.8,"s":"G"}],
"d29":[{"t":0.5,"v":1598.5,"s":"e"},{"t":0.8,"v":1598.5,"s":"e"},{"t":1.1,"v":1598.5,"s":"e"},{"t":1.4,"v":1598.5,"s":"e"},{"t":1.7,"v":1598.5,"s":"e"},{"t":2,"v":1598.5,"s":"e"},{"t":2.3,"v":1598.5,"s":"e"},{"t":2.6,"v":1598.5,"s":"e"},{"t":2.9,"v":1598.5,"s":"e"},{"t":3.2,"v":1598.5,"s":"e"},{"t":3.5,"v":1598.5,"s":"e"},{"t":3.8,"v":1598.5,"s":"e"},{"t":4.1,"v":1598.5,"s":"e"},{"t":4.4,"v":1598.5,"s":"e"},{"t":4.7,"v":1598.5,"s":"e"},{"t":5,"v":1598.5,"s":"e"},{"t":5.3,"v":1598.5,"s":"e"},{"t":5.55,"v":1598.5,"s":"e"},{"t":5.75,"v":1557.5,"s":"a"},{"t":5.95,"v":1557,"s":"a"},{"t":6.25,"v":1556.8,"s":"a"},{"t":6.6,"v":1556.7,"s":"a"},{"t":7,"v":1556.7,"s":"a"},{"t":7.4,"v":1556.7,"s":"a"},{"t":7.7,"v":1556.2,"s":"a"},{"t":8.1,"v":1555.5,"s":"a"},{"t":8.5,"v":1554.9,"s":"a"},{"t":8.9,"v":1554.3,"s":"a"},{"t":9.3,"v":1553.8,"s":"a"},{"t":9.7,"v":1553.3,"s":"a"},{"t":10.1,"v":1552.8,"s":"a"},{"t":10.5,"v":1552.3,"s":"a"},{"t":10.9,"v":1551.9,"s":"a"},{"t":11.3,"v":1551.5,"s":"a"},{"t":11.7,"v":1551.1,"s":"a"},{"t":12.1,"v":1550.8,"s":"a"},{"t":12.5,"v":1550.5,"s":"a"},{"t":12.9,"v":1550.3,"s":"a"},{"t":13.3,"v":1550.1,"s":"a"},{"t":13.7,"v":1550,"s":"a"},{"t":14.1,"v":1550,"s":"a"},{"t":14.5,"v":1550,"s":"a"},{"t":14.9,"v":1550,"s":"a"},{"t":15.3,"v":1550,"s":"a"},{"t":15.7,"v":1550,"s":"a"},{"t":16.1,"v":1550,"s":"a"},{"t":16.5,"v":1550,"s":"a"},{"t":16.9,"v":1550,"s":"a"},{"t":17.3,"v":1550,"s":"a"},{"t":17.7,"v":1550,"s":"a"},{"t":18.1,"v":1550,"s":"a"},{"t":18.5,"v":1550,"s":"a"},{"t":18.9,"v":1550,"s":"a"},{"t":19.3,"v":1550,"s":"a"},{"t":19.7,"v":1550,"s":"a"},{"t":20.1,"v":1550,"s":"e"},{"t":20.5,"v":1550,"s":"a"},{"t":20.8,"v":1550,"s":"a"},{"t":0.3,"v":1598.8,"s":"G"}]
},
"concat":[
{"data":{"name":"d0"},"mark":"point","encoding":{"x":{"field":"t","type":"quantitative","scale":{"nice":false,"zero":false,"padding":14.7},"axis":{"title":"time (sec)","format":"d","values":[0,10,20,30,40]}},"y":{"field":"v","type":"quantitative","scale":{"nice":false,"zero":false,"padding":6.1},"axis":{"title":"Objective Value","format":"d","values":[1540,1550,1560,1570,1580,1590]}},"color":{"field":"s","type":"nominal","scale":{"domain":["G","a","e"],"range":["#000000","#0000ff","#ff0000"]},"legend":{"title":"d2: unsorted A","labelExpr":"datum.label=='G'?'GCH':datum.label=='a'?'intra_VND':'inter_VND'"}}}},
{"data":{"name":"d1"},"mark":"point","encoding":{"x":{"field":"t","type":"quantitative","scale":{"nice":false,"zero":false,"padding":14.7},"axis":{"title":"time (sec)","format":"d","values":[0,5,10,15,20,25]}},"y":{"field":"v","type":"quantitative","scale":{"nice":false,"zero":false,"padding":6.1},"axis":{"title":"Objective Value","format":"d","values":[1540,1550,1560,1570,1580,1590]}},"color":{"field":"s","type":"nominal","scale":{"domain":["G","a","e"],"range":["#000000","#0000ff","#ff0000"]},"legend":{"title":"d2: sorted A","labelExpr":"datum.label=='G'?'GCH':datum.label=='a'?'intra_VND':'inter_VND'"}}}},
{"data":{"name":"d2"},"mark":"point","encoding":{"x":{"field":"t","type":"quantitative","scale":{"nice":false,"zero":false,"padding":14.7},"axis":{"title":"time (sec)","format":"d","values":[0,5,10,15,20,25]}},"y":{"field":"v","type":"quantitative","scale":{"nice":false,"zero":false,"padding":6.1},"axis":{"title":"Objective Value","format":"d","values":[1500,1520,1540,1560,1580]}},"color":{"field":"s","type":"nominal","scale":{"domain":["G","a","e"],"range":["#000000","#0000ff","#ff0000"]},"legend":{"title":"d2: sorted B","labelExpr":"datum.label=='G'?'GCH':datum.label=='a'?'intra_VND':'inter_VND'"}}}},
{"data":{"name":"d3"},"mark":"point","encoding":{"x":{"field":"t","type":"quantitative","scale":{"nice":false,"zero":false,"padding":14.7},"axis":{"title":"time (sec)","format":"d","values":[0,5,10,15,20,25]}},"y":{"field":"v","type":"quantitative","scale":{"nice":false,"zero":false,"padding":6.1},"axis":{"title":"Objective Value","format":"d","values":[1430,1440,1450,1460,1470,1480,1490,1500,1510]}},"color":{"field":"s","type":"nominal","scale":{"domain":["G","a","e"],"range":["#000000","#0000ff","#ff0000"]},"legend":{"title":"d2: unsorted A","labelExpr":"datum.label=='G'?'GCH':datum.label=='a'?'intra_VND':'inter_VND'"}}}},
{"data":{"name":"d4"},"mark":"point","encoding":{"x":{"field":"t","type":"quantitative","scale":{"nice":false,"zero":false,"padding":14.7},"axis":{"title":"time (sec)","format":"d","values":[0,5,10,15,20,25,30,35,40]}},"y":{"field":"v","type":"quantitative","scale":{"nice":false,"zero":false,"padding":6.1},"axis":{"title":"Objective Value","format":"d","values":[1530,1540,1550,1560,1570,1580,1590]}},"color":{"field":"s","type":"nominal","scale":{"domain":["G","a","e"],"range":["#000000","#0000ff","#ff0000"]},"legend":{"title":"d2: sorted A","labelExpr":"datum.label=='G'?'GCH':datum.label=='a'?'intra_VND':'inter_VND'"}}}},
{"data":{"name":"d5"},"mark":"point","encoding":{"x":{"field":"t","type":"quantitative","scale":{"nice":false,"zero":false,"padding":14.7},"axis":{"title":"time (sec)","format":"d","values":[0,10,20,30,40,50]}},"y":{"field":"v","type":"quantitative","scale":{"nice":false,"zero":false,"padding":6.1},"axis":{"title":"Objective Value","format":"d","values":[1530,1540,1550,1560,1570,1580,1590]}},"color":{"field":"s","type":"nominal","scale":{"domain":["G","a","e"],"range":["#000000","#0000ff","#ff0000"]},"legend":{"title":"d2: sorted B","labelExpr":"datum.label=='G'?'GCH':datum.label=='a'?'intra_VND':'inter_VND'"}}}},
{"data":{"name":"d6"},"mark":"point","encoding":{"x":{"field":"t","type":"quantitative","scale":{"nice":false,"zero":false,"padding":14.7},"axis":{"title":"time (sec)","format":"d","values":[0,5,10,15,20,25]}},"y":{"field":"v","type":"quantitative","scale":{"nice":false,"zero":false,"padding":6.1},"axis":{"title":"Objective Value","format":"d","values":[1460,1480,1500,1520,1540,1560,1580]}},"color":{"field":"s","type":"nominal","scale":{"domain":["G","a","e"],"range":["#000000","#0000ff","#ff0000"]},"legend":{"title":"d2: unsorted A","labelExpr":"datum.label=='G'?'GCH':datum.label=='a'?'intra_VND':'inter_VND'"}}}},
{"data":{"name":"d7"},"mark":"point","encoding":{"x":{"field":"t","type":"quantitative","scale":{"nice":false,"zero":false,"padding":14.7},"axis":{"title":"time (sec)","format":"d","values":[0,2,4,6,8,10]}},"y":{"field":"v","type":"quantitative","scale":{"nice":false,"zero":false,"padding":6.1},"axis":{"title":"Objective Value","format":"d","values":[1410,1415,1420,1425,1430,1435,1440,1445]}},"color":{"field":"s","type":"nominal","scale":{"domain":["G","a","e"],"range":["#000000","#0000ff","#ff0000"]},"legend":{"title":"d2: sorted A","labelExpr":"datum.label=='G'?'GCH':datum.label=='a'?'intra_VND':'inter_VND'"}}}},
{"data":{"name":"d8"},"mark":"point","encoding":{"x":{"field":"t","type":"quantitative","scale":{"nice":false,"zero":false,"padding":14.7},"axis":{"title":"time (sec)","format":"d","values":[0,2,4,6,8,10,12,14]}},"y":{"field":"v","type":"quantitative","scale":{"nice":false,"zero":false,"padding":6.1},"axis":{"title":"Objective Value","format":"d","values":[1370,1380,1390,1400,1410,1420,1430,1440]}},"color":{"field":"s","type":"nominal","scale":{"domain":["G","a","e"],"range":["#000000","#0000ff","#ff0000"]},"legend":{"title":"d2: sorted B","labelExpr":"datum.label=='G'?'GCH':datum.label=='a'?'intra_VND':'inter_VND'"}}}},
{"data":{"name":"d9"},"mark":"point","encoding":{"x":{"field":"t","type":"quantitative","scale":{"nice":false,"zero":false,"padding":14.7},"axis":{"title":"time (sec)","format":"d","values":[0,5,10,15,20]}},"y":{"field":"v","type":"quantitative","scale":{"nice":false,"zero":false,"padding":6.1},"axis":{"title":"Objective Value","format":"d","values":[1400,1410,1420,1430,1440,1450]}},"color":{"field":"s","type":"nominal","scale":{"domain":["G","a","e"],"range":["#000000","#0000ff","#ff0000"]},"legend":{"title":"d2: unsorted A","labelExpr":"datum.label=='G'?'GCH':datum.label=='a'?'intra_VND':'inter_VND'"}}}},
{"data":{"name":"d10"},"mark":"point","encoding":{"x":{"field":"t","type":"quantitative","scale":{"nice":false,"zero":false,"padding":14.7},"axis":{"title":"time (sec)","format":"d","values":[0,2,4,6,8,10,12,14]}},"y":{"field":"v","type":"quantitative","scale":{"nice":false,"zero":false,"padding":6.1},"axis":{"title":"Objective Value","format":"d","values":[1350,1360,1370,1380,1390,1400,1410]}},"color":{"field":"s","type":"nominal","scale":{"domain":["G","a","e"],"range":["#000000","#0000ff","#ff0000"]},"legend":{"title":"d2: sorted A","labelExpr":"datum.label=='G'?'GCH':datum.label=='a'?'intra_VND':'inter_VND'"}}}},
{"data":{"name":"d11"},"mark":"point","encoding":{"x":{"field":"t","type":"quantitative","scale":{"nice":false,"zero":false,"padding":14.7},"axis":{"title":"time (sec)","format":"d","values":[0,2,4,6,8,10,12,14]}},"y":{"field":"v","type":"quantitative","scale":{"nice":false,"zero":false,"padding":6.1},"axis":{"title":"Objective Value","format":"d","values":[1350,1360,1370,1380,1390,1400,1410]}},"color":{"field":"s","type":"nominal","scale":{"domain":["G","a","e"],"range":["#000000","#0000ff","#ff0000"]},"legend":{"title":"d2: sorted B","labelExpr":"datum.label=='G'?'GCH':datum.label=='a'?'intra_VND':'inter_VND'"}}}},
{"data":{"name":"d12"},"mark":"point","encoding":{"x":{"field":"t","type":"quantitative","scale":{"nice":false,"zero":false,"padding":14.7},"axis":{"title":"time (sec)","format":"d","values":[0,5,10,15,20,25,30]}},"y":{"field":"v","type":"quantitative","scale":{"nice":false,"zero":false,"padding":6.1},"axis":{"title":"Objective Value","format":"d","values":[1540,1545,1550,1555,1560,1565]}},"color":{"field":"s","type":"nominal","scale":{"domain":["G","a","e"],"range":["#000000","#0000ff","#ff0000"]},"legend":{"title":"d2: unsorted A","labelExpr":"datum.label=='G'?'GCH':datum.label=='a'?'intra_VND':'inter_VND'"}}}},
{"data":{"name":"d13"},"mark":"point","encoding":{"x":{"field":"t","type":"quantitative","scale":{"nice":false,"zero":false,"padding":14.7},"axis":{"title":"time (sec)","format":"d","values":[0,2,4,6,8,10,12,14]}},"y":{"field":"v","type":"quantitative","scale":{"nice":false,"zero":false,"padding":6.1},"axis":{"title":"Objective Value","format":"d","values":[1305,1310,1315,1320,1325,1330]}},"color":{"field":"s","type":"nominal","scale":{"domain":["G","a","e"],"range":["#000000","#0000ff","#ff0000"]},"legend":{"title":"d2: sorted A","labelExpr":"datum.label=='G'?'GCH':datum.label=='a'?'intra_VND':'inter_VND'"}}}},
{"data":{"name":"d14"},"mark":"point","encoding":{"x":{"field":"t","type":"quantitative","scale":{"nice":false,"zero":false,"padding":14.7},"axis":{"title":"time (sec)","format":"d","values":[0,2,4,6,8,10,12,14,16]}},"y":{"field":"v","type":"quantitative","scale":{"nice":false,"zero":false,"padding":6.1},"axis":{"title":"Objective Value","format":"d","values":[1326,1327,1328,1329,1330]}},"color":{"field":"s","type":"nominal","scale":{"domain":["G","a","e"],"range":["#000000","#0000ff","#ff0000"]},"legend":{"title":"d2: sorted B","labelExpr":"datum.label=='G'?'GCH':datum.label=='a'?'intra_VND':'inter_VND'"}}}},
{"data":{"name":"d15"},"mark":"point","encoding":{"x":{"field":"t","type":"quantitative","scale":{"nice":false,"zero":false,"padding":14.7},"axis":{"title":"time (sec)","format":"d","values":[0,5,10,15,20]}},"y":{"field":"v","type":"quantitative","scale":{"nice":false,"zero":false,"padding":6.1},"axis":{"title":"Objective Value","format":"d","values":[1400,1410,1420,1430,1440,1450,1460,1470]}},"color":{"field":"s","type":"nominal","scale":{"domain":["G","a","e"],"range":["#000000","#0000ff","#ff0000"]},"legend":{"title":"d2: unsorted A","labelExpr":"datum.label=='G'?'GCH':datum.label=='a'?'intra_VND':'inter_VND'"}}}},
{"data":{"name":"d16"},"mark":"point","encoding":{"x":{"field":"t","type":"quantitative","scale":{"nice":false,"zero":false,"padding":14.7},"axis":{"title":"time (sec)","format":"d","values":[0,5,10,15,20,25,30,35,40]}},"y":{"field":"v","type":"quantitative","scale":{"nice":false,"zero":false,"padding":6.1},"axis":{"title":"Objective Value","format":"d","values":[1620,1630,1640,1650,1660,1670]}},"color":{"field":"s","type":"nominal","scale":{"domain":["G","a","e"],"range":["#000000","#0000ff","#ff0000"]},"legend":{"title":"d2: sorted A","labelExpr":"datum.label=='G'?'GCH':datum.label=='a'?'intra_VND':'inter_VND'"}}}},
{"data":{"name":"d17"},"mark":"point","encoding":{"x":{"field":"t","type":"quantitative","scale":{"nice":false,"zero":false,"padding":14.7},"axis":{"title":"time (sec)","format":"d","values":[0,10,20,30,40]}},"y":{"field":"v","type":"quantitative","scale":{"nice":false,"zero":false,"padding":6.1},"axis":{"title":"Objective Value","format":"d","values":[1560,1580,1600,1620,1640,1660]}},"color":{"field":"s","type":"nominal","scale":{"domain":["G","a","e"],"range":["#000000","#0000ff","#ff0000"]},"legend":{"title":"d2: sorted B","labelExpr":"datum.label=='G'?'GCH':datum.label=='a'?'intra_VND':'inter_VND'"}}}},
{"data":{"name":"d18"},"mark":"point","encoding":{"x":{"field":"t","type":"quantitative","scale":{"nice":false,"zero":false,"padding":14.7},"axis":{"title":"time (sec)","format":"d","values":[0,5,10,15,20,25,30]}},"y":{"field":"v","type":"quantitative","scale":{"nice":false,"zero":false,"padding":6.1},"axis":{"title":"Objective Value","format":"d","values":[1570,1580,1590,1600,1610,1620]}},"color":{"field":"s","type":"nominal","scale":{"domain":["G","a","e"],"range":["#000000","#0000ff","#ff0000"]},"legend":{"title":"d2: unsorted A","labelExpr":"datum.label=='G'?'GCH':datum.label=='a'?'intra_VND':'inter_VND'"}}}},
{"data":{"name":"d19"},"mark":"point","encoding":{"x":{"field":"t","type":"quantitative","scale":{"nice":false,"zero":false,"padding":14.7},"axis":{"title":"time (sec)","format":"d","values":[0,5,10,15,20,25,30,35,40]}},"y":{"field":"v","type":"quantitative","scale":{"nice":false,"zero":false,"padding":6.1},"axis":{"title":"Objective Value","format":".1f","values":[1560,1562.5,1565,1567.5,1570,1572.5,1575,1577.5,1580]}},"color":{"field":"s","type":"nominal","scale":{"domain":["G","a","e"],"range":["#000000","#0000ff","#ff0000"]},"legend":{"title":"d2: sorted A","labelExpr":"datum.label=='G'?'GCH':datum.label=='a'?'intra_VND':'inter_VND'"}}}},
{"data":{"name":"d20"},"mark":"point","encoding":{"x":{"field":"t","type":"quantitative","scale":{"nice":false,"zero":false,"padding":14.7},"axis":{"title":"time (sec)","format":"d","values":[0,10,20,30,40,50]}},"y":{"field":"v","type":"quantitative","scale":{"nice":false,"zero":false,"padding":6.1},"axis":{"title":"Objective Value","format":".1f","values":[1560,1562.5,1565,1567.5,1570,1572.5,1575,1577.5,1580]}},"color":{"field":"s","type":"nominal","scale":{"domain":["G","a","e"],"range":["#000000","#0000ff","#ff0000"]},"legend":{"title":"d2: sorted B","labelExpr":"datum.label=='G'?'GCH':datum.label=='a'?'intra_VND':'inter_VND'"}}}},
{"data":{"name":"d21"},"mark":"point","encoding":{"x":{"field":"t","type":"quantitative","scale":{"nice":false,"zero":false,"padding":14.7},"axis":{"title":"time (sec)","format":".1f","values":[0,2.5,5,7.5,10,12.5,15,17.5,20]}},"y":{"field":"v","type":"quantitative","scale":{"nice":false,"zero":false,"padding":6.1},"axis":{"title":"Objective Value","format":"d","values":[1500,1505,1510,1515,1520,1525,1530,1535,1540]}},"color":{"field":"s","type":"nominal","scale":{"domain":["G","a","e"],"range":["#000000","#0000ff","#ff0000"]},"legend":{"title":"d2: unsorted A","labelExpr":"datum.label=='G'?'GCH':datum.label=='a'?'intra_VND':'inter_VND'"}}}},
{"data":{"name":"d22"},"mark":"point","encoding":{"x":{"field":"t","type":"quantitative","scale":{"nice":false,"zero":false,"padding":14.7},"axis":{"title":"time (sec)","format":"d","values":[0,5,10,15,20]}},"y":{"field":"v","type":"quantitative","scale":{"nice":false,"zero":false,"padding":6.1},"axis":{"title":"Objective Value","format":"d","values":[1450,1460,1470,1480,1490,1500,1510,1520,1530]}},"color":{"field":"s","type":"nominal","scale":{"domain":["G","a","e"],"range":["#000000","#0000ff","#ff0000"]},"legend":{"title":"d2: sorted A","labelExpr":"datum.label=='G'?'GCH':datum.label=='a'?'intra_VND':'inter_VND'"}}}},
{"data":{"name":"d23"},"mark":"point","encoding":{"x":{"field":"t","type":"quantitative","scale":{"nice":false,"zero":false,"padding":14.7},"axis":{"title":"time (sec)","format":"d","values":[0,5,10,15,20,25]}},"y":{"field":"v","type":"quantitative","scale":{"nice":false,"zero":false,"padding":6.1},"axis":{"title":"Objective Value","format":"d","values":[1420,1440,1460,1480,1500,1520]}},"color":{"field":"s","type":"nominal","scale":{"domain":["G","a","e"],"range":["#000000","#0000ff","#ff0000"]},"legend":{"title":"d2: sorted B","labelExpr":"datum.label=='G'?'GCH':datum.label=='a'?'intra_VND':'inter_VND'"}}}},
{"data":{"name":"d24"},"mark":"point","encoding":{"x":{"field":"t","type":"quantitative","scale":{"nice":false,"zero":false,"padding":14.7},"axis":{"title":"time (sec)","format":"d","values":[0,5,10,15,20]}},"y":{"field":"v","type":"quantitative","scale":{"nice":false,"zero":false,"padding":6.1},"axis":{"title":"Objective Value","format":"d","values":[1470,1472,1474,1476,1478]}},"color":{"field":"s","type":"nominal","scale":{"domain":["G","a","e"],"range":["#000000","#0000ff","#ff0000"]},"legend":{"title":"d2: unsorted A","labelExpr":"datum.label=='G'?'GCH':datum.label=='a'?'intra_VND':'inter_VND'"}}}},
{"data":{"name":"d25"},"mark":"point","encoding":{"x":{"field":"t","type":"quantitative","scale":{"nice":false,"zero":false,"padding":14.7},"axis":{"title":"time (sec)","format":".1f","values":[0,2.5,5,7.5,10,12.5,15,17.5]}},"y":{"field":"v","type":"quantitative","scale":{"nice":false,"zero":false,"padding":6.1},"axis":{"title":"Objective Value","format":"d","values":[1480,1490,1500,1510,1520,1530]}},"color":{"field":"s","type":"nominal","scale":{"domain":["G","a","e"],"range":["#000000","#0000ff","#ff0000"]},"legend":{"title":"d2: sorted A","labelExpr":"datum.label=='G'?'GCH':datum.label=='a'?'intra_VND':'inter_VND'"}}}},
{"data":{"name":"d26"},"mark":"point","encoding":{"x":{"field":"t","type":"quantitative","scale":{"nice":false,"zero":false,"padding":14.7},"axis":{"title":"time (sec)","format":"d","values":[0,5,10,15,20]}},"y":{"field":"v","type":"quantitative","scale":{"nice":false,"zero":false,"padding":6.1},"axis":{"title":"Objective Value","format":"d","values":[1505,1510,1515,1520,1525,1530,1535]}},"color":{"field":"s","type":"nominal","scale":{"domain":["G","a","e"],"range":["#000000","#0000ff","#ff0000"]},"legend":{"title":"d2: sorted B","labelExpr":"datum.label=='G'?'GCH':datum.label=='a'?'intra_VND':'inter_VND'"}}}},
{"data":{"name":"d27"},"mark":"point","encoding":{"x":{"field":"t","type":"quantitative","scale":{"nice":false,"zero":false,"padding":14.7},"axis":{"title":"time (sec)","format":"d","values":[0,5,10,15,20,25,30]}},"y":{"field":"v","type":"quantitative","scale":{"nice":false,"zero":false,"padding":6.1},"axis":{"title":"Objective Value","format":"d","values":[1420,1430,1440,1450,1460,1470]}},"color":{"field":"s","type":"nominal","scale":{"domain":["G","a","e"],"range":["#000000","#0000ff","#ff0000"]},"legend":{"title":"d2: unsorted A","labelExpr":"datum.label=='G'?'GCH':datum.label=='a'?'intra_VND':'inter_VND'"}}}},
{"data":{"name":"d28"},"mark":"point","encoding":{"x":{"field":"t","type":"quantitative","scale":{"nice":false,"zero":false,"padding":14.7},"axis":{"title":"time (sec)","format":".1f","values":[0,2.5,5,7.5,10,12.5,15,17.5,20]}},"y":{"field":"v","type":"quantitative","scale":{"nice":false,"zero":false,"padding":6.1},"axis":{"title":"Objective Value","format":"d","values":[1550,1560,1570,1580,1590,1600]}},"color":{"field":"s","type":"nominal","scale":{"domain":["G","a","e"],"range":["#000000","#0000ff","#ff0000"]},"legend":{"title":"d2: sorted A","labelExpr":"datum.label=='G'?'GCH':datum.label=='a'?'intra_VND':'inter_VND'"}}}},
{"data":{"name":"d29"},"mark":"point","encoding":{"x":{"field":"t","type":"quantitative","scale":{"nice":false,"zero":false,"padding":14.7},"axis":{"title":"time (sec)","format":"d","values":[0,5,10,15,20]}},"y":{"field":"v","type":"quantitative","scale":{"nice":false,"zero":false,"padding":6.1},"axis":{"title":"Objective Value","format":"d","values":[1550,1560,1570,1580,1590,1600]}},"color":{"field":"s","type":"nominal","scale":{"domain":["G","a","e"],"range":["#000000","#0000ff","#ff0000"]},"legend":{"title":"d2: sorted B","labelExpr":"datum.label=='G'?'GCH':datum.label=='a'?'intra_VND':'inter_VND'"}}}}
]
}
